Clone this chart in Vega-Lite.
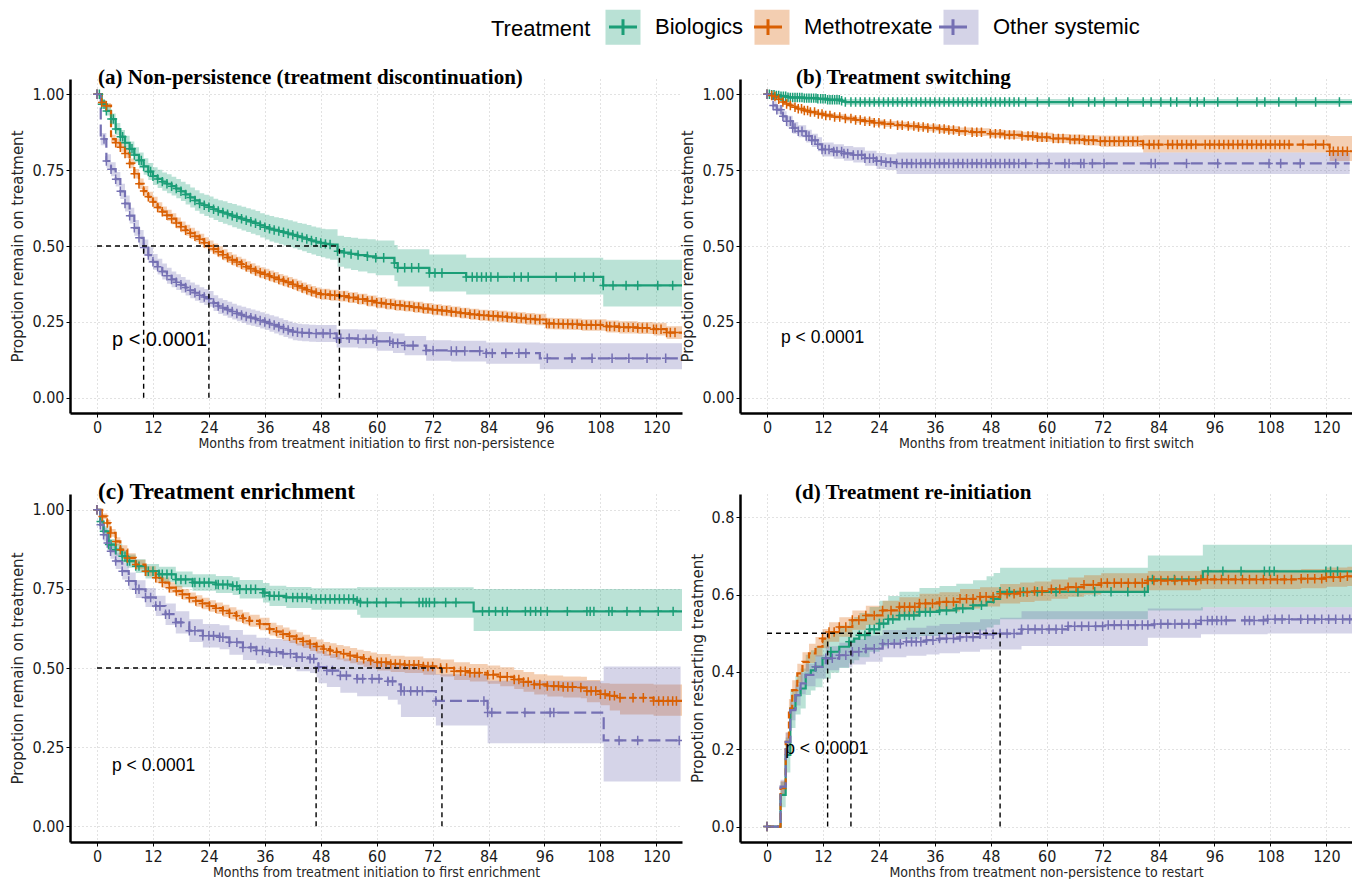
{
"$schema": "https://vega.github.io/schema/vega-lite/v6.json",
"background": "white",
"padding": {"left": 10, "top": 8, "right": 0, "bottom": 0},
"bounds": "flush",
"columns": 2,
"spacing": {"row": 81, "column": 58},
"datasets": {
"a": [
{"g":"Biologics","t":0,"s":1,"lo":1,"hi":1},
{"g":"Biologics","t":0.5,"s":1,"lo":1,"hi":1},
{"g":"Biologics","t":1,"s":0.967,"lo":0.955,"hi":0.979},
{"g":"Biologics","t":1.5,"s":0.967,"lo":0.955,"hi":0.979},
{"g":"Biologics","t":2,"s":0.945,"lo":0.93,"hi":0.96},
{"g":"Biologics","t":3,"s":0.918,"lo":0.9,"hi":0.936},
{"g":"Biologics","t":3.5,"s":0.918,"lo":0.9,"hi":0.936},
{"g":"Biologics","t":4,"s":0.885,"lo":0.865,"hi":0.905},
{"g":"Biologics","t":5,"s":0.86,"lo":0.838,"hi":0.882},
{"g":"Biologics","t":5.5,"s":0.86,"lo":0.838,"hi":0.882},
{"g":"Biologics","t":6,"s":0.84,"lo":0.817,"hi":0.863},
{"g":"Biologics","t":7,"s":0.82,"lo":0.796,"hi":0.844},
{"g":"Biologics","t":7.5,"s":0.82,"lo":0.796,"hi":0.844},
{"g":"Biologics","t":8,"s":0.8,"lo":0.775,"hi":0.825},
{"g":"Biologics","t":9,"s":0.782,"lo":0.756,"hi":0.808},
{"g":"Biologics","t":9.5,"s":0.782,"lo":0.756,"hi":0.808},
{"g":"Biologics","t":10,"s":0.762,"lo":0.735,"hi":0.789},
{"g":"Biologics","t":11,"s":0.745,"lo":0.717,"hi":0.773},
{"g":"Biologics","t":11.5,"s":0.745,"lo":0.717,"hi":0.773},
{"g":"Biologics","t":12,"s":0.73,"lo":0.701,"hi":0.759},
{"g":"Biologics","t":13,"s":0.721,"lo":0.691,"hi":0.751},
{"g":"Biologics","t":14,"s":0.712,"lo":0.682,"hi":0.742},
{"g":"Biologics","t":15,"s":0.705,"lo":0.674,"hi":0.736},
{"g":"Biologics","t":16,"s":0.697,"lo":0.666,"hi":0.728},
{"g":"Biologics","t":17,"s":0.689,"lo":0.657,"hi":0.721},
{"g":"Biologics","t":18,"s":0.68,"lo":0.648,"hi":0.712},
{"g":"Biologics","t":19,"s":0.67,"lo":0.637,"hi":0.703},
{"g":"Biologics","t":20,"s":0.66,"lo":0.627,"hi":0.693},
{"g":"Biologics","t":21,"s":0.65,"lo":0.616,"hi":0.684},
{"g":"Biologics","t":22,"s":0.64,"lo":0.606,"hi":0.674},
{"g":"Biologics","t":23,"s":0.634,"lo":0.599,"hi":0.669},
{"g":"Biologics","t":24,"s":0.628,"lo":0.593,"hi":0.663},
{"g":"Biologics","t":25,"s":0.621,"lo":0.586,"hi":0.656},
{"g":"Biologics","t":26,"s":0.615,"lo":0.579,"hi":0.651},
{"g":"Biologics","t":27,"s":0.61,"lo":0.573,"hi":0.647},
{"g":"Biologics","t":28,"s":0.605,"lo":0.568,"hi":0.642},
{"g":"Biologics","t":29,"s":0.6,"lo":0.562,"hi":0.638},
{"g":"Biologics","t":30,"s":0.595,"lo":0.557,"hi":0.633},
{"g":"Biologics","t":31,"s":0.59,"lo":0.551,"hi":0.629},
{"g":"Biologics","t":32,"s":0.585,"lo":0.546,"hi":0.624},
{"g":"Biologics","t":33,"s":0.58,"lo":0.54,"hi":0.62},
{"g":"Biologics","t":34,"s":0.575,"lo":0.535,"hi":0.615},
{"g":"Biologics","t":35,"s":0.568,"lo":0.528,"hi":0.608},
{"g":"Biologics","t":36,"s":0.562,"lo":0.521,"hi":0.603},
{"g":"Biologics","t":37,"s":0.557,"lo":0.515,"hi":0.599},
{"g":"Biologics","t":38,"s":0.553,"lo":0.511,"hi":0.595},
{"g":"Biologics","t":39,"s":0.549,"lo":0.506,"hi":0.592},
{"g":"Biologics","t":40,"s":0.545,"lo":0.502,"hi":0.588},
{"g":"Biologics","t":41,"s":0.541,"lo":0.497,"hi":0.585},
{"g":"Biologics","t":42,"s":0.537,"lo":0.493,"hi":0.581},
{"g":"Biologics","t":43,"s":0.532,"lo":0.488,"hi":0.576},
{"g":"Biologics","t":44,"s":0.528,"lo":0.483,"hi":0.573},
{"g":"Biologics","t":45,"s":0.523,"lo":0.477,"hi":0.569},
{"g":"Biologics","t":46,"s":0.518,"lo":0.472,"hi":0.564},
{"g":"Biologics","t":47,"s":0.514,"lo":0.467,"hi":0.561},
{"g":"Biologics","t":48,"s":0.51,"lo":0.463,"hi":0.557},
{"g":"Biologics","t":49,"s":0.507,"lo":0.459,"hi":0.555},
{"g":"Biologics","t":50,"s":0.505,"lo":0.455,"hi":0.555},
{"g":"Biologics","t":51.6,"s":0.483,"lo":0.432,"hi":0.534},
{"g":"Biologics","t":53,"s":0.478,"lo":0.426,"hi":0.53},
{"g":"Biologics","t":54.5,"s":0.474,"lo":0.421,"hi":0.527},
{"g":"Biologics","t":56,"s":0.47,"lo":0.416,"hi":0.524},
{"g":"Biologics","t":58,"s":0.466,"lo":0.41,"hi":0.522},
{"g":"Biologics","t":59.8,"s":0.461,"lo":0.404,"hi":0.518},
{"g":"Biologics","t":61.5,"s":0.461,"lo":0.404,"hi":0.518},
{"g":"Biologics","t":63.8,"s":0.444,"lo":0.385,"hi":0.503},
{"g":"Biologics","t":64.5,"s":0.428,"lo":0.367,"hi":0.489},
{"g":"Biologics","t":66,"s":0.428,"lo":0.367,"hi":0.489},
{"g":"Biologics","t":67.5,"s":0.428,"lo":0.367,"hi":0.489},
{"g":"Biologics","t":69,"s":0.428,"lo":0.367,"hi":0.489},
{"g":"Biologics","t":71.3,"s":0.411,"lo":0.35,"hi":0.472},
{"g":"Biologics","t":72.5,"s":0.411,"lo":0.35,"hi":0.472},
{"g":"Biologics","t":74,"s":0.411,"lo":0.35,"hi":0.472},
{"g":"Biologics","t":79.2,"s":0.398,"lo":0.34,"hi":0.461},
{"g":"Biologics","t":80.5,"s":0.398,"lo":0.34,"hi":0.461},
{"g":"Biologics","t":81.5,"s":0.398,"lo":0.34,"hi":0.461},
{"g":"Biologics","t":82.5,"s":0.398,"lo":0.34,"hi":0.461},
{"g":"Biologics","t":83.5,"s":0.398,"lo":0.34,"hi":0.461},
{"g":"Biologics","t":84.5,"s":0.398,"lo":0.34,"hi":0.461},
{"g":"Biologics","t":86,"s":0.398,"lo":0.34,"hi":0.461},
{"g":"Biologics","t":89.5,"s":0.398,"lo":0.34,"hi":0.461},
{"g":"Biologics","t":91,"s":0.398,"lo":0.34,"hi":0.461},
{"g":"Biologics","t":92.5,"s":0.398,"lo":0.34,"hi":0.461},
{"g":"Biologics","t":98.5,"s":0.398,"lo":0.34,"hi":0.461},
{"g":"Biologics","t":102.5,"s":0.398,"lo":0.34,"hi":0.461},
{"g":"Biologics","t":104.5,"s":0.398,"lo":0.34,"hi":0.461},
{"g":"Biologics","t":106.5,"s":0.398,"lo":0.34,"hi":0.461},
{"g":"Biologics","t":108.6,"s":0.37,"lo":0.301,"hi":0.455},
{"g":"Biologics","t":110.7,"s":0.37,"lo":0.301,"hi":0.455},
{"g":"Biologics","t":113.5,"s":0.37,"lo":0.301,"hi":0.455},
{"g":"Biologics","t":116,"s":0.37,"lo":0.301,"hi":0.455},
{"g":"Biologics","t":120.3,"s":0.37,"lo":0.301,"hi":0.455},
{"g":"Biologics","t":123.5,"s":0.37,"lo":0.301,"hi":0.455},
{"g":"Biologics","t":125.5,"s":0.37,"lo":0.301,"hi":0.455,"c":0},
{"g":"Methotrexate","t":0,"s":1,"lo":1,"hi":1},
{"g":"Methotrexate","t":1,"s":0.973,"lo":0.965,"hi":0.981},
{"g":"Methotrexate","t":2,"s":0.962,"lo":0.953,"hi":0.971},
{"g":"Methotrexate","t":3,"s":0.852,"lo":0.838,"hi":0.866,"c":0},
{"g":"Methotrexate","t":4,"s":0.84,"lo":0.826,"hi":0.854},
{"g":"Methotrexate","t":5,"s":0.825,"lo":0.81,"hi":0.84},
{"g":"Methotrexate","t":6,"s":0.805,"lo":0.79,"hi":0.82},
{"g":"Methotrexate","t":7,"s":0.772,"lo":0.756,"hi":0.788},
{"g":"Methotrexate","t":8,"s":0.738,"lo":0.722,"hi":0.754},
{"g":"Methotrexate","t":9,"s":0.705,"lo":0.688,"hi":0.722},
{"g":"Methotrexate","t":10,"s":0.681,"lo":0.664,"hi":0.698},
{"g":"Methotrexate","t":11,"s":0.662,"lo":0.645,"hi":0.679},
{"g":"Methotrexate","t":12,"s":0.645,"lo":0.628,"hi":0.662},
{"g":"Methotrexate","t":13,"s":0.627,"lo":0.61,"hi":0.644},
{"g":"Methotrexate","t":14,"s":0.613,"lo":0.596,"hi":0.63},
{"g":"Methotrexate","t":15,"s":0.601,"lo":0.583,"hi":0.619},
{"g":"Methotrexate","t":16,"s":0.59,"lo":0.572,"hi":0.608},
{"g":"Methotrexate","t":17,"s":0.576,"lo":0.558,"hi":0.594},
{"g":"Methotrexate","t":18,"s":0.563,"lo":0.545,"hi":0.581},
{"g":"Methotrexate","t":19,"s":0.552,"lo":0.534,"hi":0.57},
{"g":"Methotrexate","t":20,"s":0.542,"lo":0.524,"hi":0.56},
{"g":"Methotrexate","t":21,"s":0.532,"lo":0.514,"hi":0.55},
{"g":"Methotrexate","t":22,"s":0.522,"lo":0.504,"hi":0.54},
{"g":"Methotrexate","t":23,"s":0.511,"lo":0.493,"hi":0.529},
{"g":"Methotrexate","t":24,"s":0.5,"lo":0.482,"hi":0.518},
{"g":"Methotrexate","t":25,"s":0.49,"lo":0.472,"hi":0.508},
{"g":"Methotrexate","t":26,"s":0.481,"lo":0.463,"hi":0.499},
{"g":"Methotrexate","t":27,"s":0.471,"lo":0.453,"hi":0.489},
{"g":"Methotrexate","t":28,"s":0.462,"lo":0.444,"hi":0.48},
{"g":"Methotrexate","t":29,"s":0.454,"lo":0.436,"hi":0.472},
{"g":"Methotrexate","t":30,"s":0.447,"lo":0.429,"hi":0.465},
{"g":"Methotrexate","t":31,"s":0.44,"lo":0.422,"hi":0.458},
{"g":"Methotrexate","t":32,"s":0.432,"lo":0.414,"hi":0.45},
{"g":"Methotrexate","t":33,"s":0.425,"lo":0.407,"hi":0.443},
{"g":"Methotrexate","t":34,"s":0.418,"lo":0.4,"hi":0.436},
{"g":"Methotrexate","t":35,"s":0.412,"lo":0.394,"hi":0.43},
{"g":"Methotrexate","t":36,"s":0.407,"lo":0.389,"hi":0.425},
{"g":"Methotrexate","t":37,"s":0.401,"lo":0.383,"hi":0.419},
{"g":"Methotrexate","t":38,"s":0.396,"lo":0.378,"hi":0.414},
{"g":"Methotrexate","t":39,"s":0.39,"lo":0.372,"hi":0.408},
{"g":"Methotrexate","t":40,"s":0.385,"lo":0.367,"hi":0.403},
{"g":"Methotrexate","t":41,"s":0.38,"lo":0.362,"hi":0.398},
{"g":"Methotrexate","t":42,"s":0.374,"lo":0.356,"hi":0.392},
{"g":"Methotrexate","t":43,"s":0.368,"lo":0.35,"hi":0.386},
{"g":"Methotrexate","t":44,"s":0.362,"lo":0.344,"hi":0.38},
{"g":"Methotrexate","t":45,"s":0.356,"lo":0.338,"hi":0.374},
{"g":"Methotrexate","t":46,"s":0.35,"lo":0.332,"hi":0.368},
{"g":"Methotrexate","t":47,"s":0.345,"lo":0.327,"hi":0.363},
{"g":"Methotrexate","t":48,"s":0.341,"lo":0.323,"hi":0.359},
{"g":"Methotrexate","t":49,"s":0.341,"lo":0.323,"hi":0.359},
{"g":"Methotrexate","t":50,"s":0.338,"lo":0.32,"hi":0.356},
{"g":"Methotrexate","t":51,"s":0.338,"lo":0.32,"hi":0.356},
{"g":"Methotrexate","t":52,"s":0.335,"lo":0.317,"hi":0.353},
{"g":"Methotrexate","t":53,"s":0.335,"lo":0.317,"hi":0.353},
{"g":"Methotrexate","t":54,"s":0.33,"lo":0.312,"hi":0.348},
{"g":"Methotrexate","t":55,"s":0.33,"lo":0.312,"hi":0.348},
{"g":"Methotrexate","t":56,"s":0.325,"lo":0.307,"hi":0.343},
{"g":"Methotrexate","t":57,"s":0.325,"lo":0.307,"hi":0.343},
{"g":"Methotrexate","t":58,"s":0.319,"lo":0.301,"hi":0.337},
{"g":"Methotrexate","t":59,"s":0.319,"lo":0.301,"hi":0.337},
{"g":"Methotrexate","t":60,"s":0.313,"lo":0.295,"hi":0.331},
{"g":"Methotrexate","t":61,"s":0.313,"lo":0.295,"hi":0.331},
{"g":"Methotrexate","t":62,"s":0.309,"lo":0.291,"hi":0.327},
{"g":"Methotrexate","t":63,"s":0.309,"lo":0.291,"hi":0.327},
{"g":"Methotrexate","t":64,"s":0.305,"lo":0.287,"hi":0.323},
{"g":"Methotrexate","t":65,"s":0.305,"lo":0.287,"hi":0.323},
{"g":"Methotrexate","t":66,"s":0.302,"lo":0.284,"hi":0.32},
{"g":"Methotrexate","t":67,"s":0.302,"lo":0.284,"hi":0.32},
{"g":"Methotrexate","t":68,"s":0.298,"lo":0.28,"hi":0.316},
{"g":"Methotrexate","t":69,"s":0.298,"lo":0.28,"hi":0.316},
{"g":"Methotrexate","t":70,"s":0.294,"lo":0.276,"hi":0.312},
{"g":"Methotrexate","t":71,"s":0.294,"lo":0.276,"hi":0.312},
{"g":"Methotrexate","t":72,"s":0.29,"lo":0.272,"hi":0.308},
{"g":"Methotrexate","t":73,"s":0.29,"lo":0.272,"hi":0.308},
{"g":"Methotrexate","t":74,"s":0.287,"lo":0.269,"hi":0.305},
{"g":"Methotrexate","t":75,"s":0.287,"lo":0.269,"hi":0.305},
{"g":"Methotrexate","t":76,"s":0.283,"lo":0.265,"hi":0.301},
{"g":"Methotrexate","t":77,"s":0.283,"lo":0.265,"hi":0.301},
{"g":"Methotrexate","t":78,"s":0.279,"lo":0.261,"hi":0.297},
{"g":"Methotrexate","t":79,"s":0.279,"lo":0.261,"hi":0.297},
{"g":"Methotrexate","t":80,"s":0.275,"lo":0.257,"hi":0.293},
{"g":"Methotrexate","t":81,"s":0.275,"lo":0.257,"hi":0.293},
{"g":"Methotrexate","t":82,"s":0.272,"lo":0.254,"hi":0.29},
{"g":"Methotrexate","t":83,"s":0.272,"lo":0.254,"hi":0.29},
{"g":"Methotrexate","t":84,"s":0.27,"lo":0.251,"hi":0.289},
{"g":"Methotrexate","t":85,"s":0.27,"lo":0.251,"hi":0.289},
{"g":"Methotrexate","t":86,"s":0.268,"lo":0.249,"hi":0.287},
{"g":"Methotrexate","t":87,"s":0.268,"lo":0.249,"hi":0.287},
{"g":"Methotrexate","t":88,"s":0.265,"lo":0.246,"hi":0.284},
{"g":"Methotrexate","t":89,"s":0.265,"lo":0.246,"hi":0.284},
{"g":"Methotrexate","t":90,"s":0.263,"lo":0.244,"hi":0.282},
{"g":"Methotrexate","t":91,"s":0.263,"lo":0.244,"hi":0.282},
{"g":"Methotrexate","t":92,"s":0.26,"lo":0.241,"hi":0.279},
{"g":"Methotrexate","t":93,"s":0.26,"lo":0.241,"hi":0.279},
{"g":"Methotrexate","t":94,"s":0.258,"lo":0.239,"hi":0.277},
{"g":"Methotrexate","t":95,"s":0.258,"lo":0.239,"hi":0.277},
{"g":"Methotrexate","t":96.4,"s":0.245,"lo":0.226,"hi":0.264},
{"g":"Methotrexate","t":97,"s":0.245,"lo":0.226,"hi":0.264},
{"g":"Methotrexate","t":98,"s":0.244,"lo":0.225,"hi":0.263},
{"g":"Methotrexate","t":99,"s":0.244,"lo":0.225,"hi":0.263},
{"g":"Methotrexate","t":100,"s":0.243,"lo":0.224,"hi":0.262},
{"g":"Methotrexate","t":101,"s":0.243,"lo":0.224,"hi":0.262},
{"g":"Methotrexate","t":102,"s":0.242,"lo":0.223,"hi":0.261},
{"g":"Methotrexate","t":103,"s":0.242,"lo":0.223,"hi":0.261},
{"g":"Methotrexate","t":104,"s":0.24,"lo":0.221,"hi":0.259},
{"g":"Methotrexate","t":105,"s":0.24,"lo":0.221,"hi":0.259},
{"g":"Methotrexate","t":106,"s":0.24,"lo":0.221,"hi":0.259},
{"g":"Methotrexate","t":107,"s":0.24,"lo":0.221,"hi":0.259},
{"g":"Methotrexate","t":108,"s":0.24,"lo":0.221,"hi":0.259},
{"g":"Methotrexate","t":109.3,"s":0.235,"lo":0.215,"hi":0.255},
{"g":"Methotrexate","t":110,"s":0.235,"lo":0.215,"hi":0.255},
{"g":"Methotrexate","t":111,"s":0.235,"lo":0.215,"hi":0.255},
{"g":"Methotrexate","t":112,"s":0.232,"lo":0.212,"hi":0.252},
{"g":"Methotrexate","t":113,"s":0.232,"lo":0.212,"hi":0.252},
{"g":"Methotrexate","t":114,"s":0.232,"lo":0.212,"hi":0.252},
{"g":"Methotrexate","t":115,"s":0.232,"lo":0.212,"hi":0.252},
{"g":"Methotrexate","t":116,"s":0.23,"lo":0.21,"hi":0.25},
{"g":"Methotrexate","t":117,"s":0.23,"lo":0.21,"hi":0.25},
{"g":"Methotrexate","t":118,"s":0.23,"lo":0.21,"hi":0.25},
{"g":"Methotrexate","t":119.4,"s":0.226,"lo":0.205,"hi":0.247},
{"g":"Methotrexate","t":120,"s":0.226,"lo":0.205,"hi":0.247},
{"g":"Methotrexate","t":121,"s":0.226,"lo":0.205,"hi":0.247},
{"g":"Methotrexate","t":122.2,"s":0.215,"lo":0.194,"hi":0.236},
{"g":"Methotrexate","t":123,"s":0.215,"lo":0.194,"hi":0.236},
{"g":"Methotrexate","t":124,"s":0.215,"lo":0.194,"hi":0.236},
{"g":"Methotrexate","t":125.5,"s":0.215,"lo":0.194,"hi":0.236,"c":0},
{"g":"Other systemic","t":0,"s":1,"lo":1,"hi":1},
{"g":"Other systemic","t":0.8,"s":0.852,"lo":0.832,"hi":0.872,"c":0},
{"g":"Other systemic","t":1.5,"s":0.852,"lo":0.832,"hi":0.872},
{"g":"Other systemic","t":2,"s":0.78,"lo":0.758,"hi":0.802},
{"g":"Other systemic","t":3,"s":0.753,"lo":0.73,"hi":0.776},
{"g":"Other systemic","t":4,"s":0.72,"lo":0.696,"hi":0.744},
{"g":"Other systemic","t":5,"s":0.68,"lo":0.655,"hi":0.705},
{"g":"Other systemic","t":6,"s":0.64,"lo":0.614,"hi":0.666},
{"g":"Other systemic","t":7,"s":0.6,"lo":0.574,"hi":0.626},
{"g":"Other systemic","t":8,"s":0.56,"lo":0.534,"hi":0.586},
{"g":"Other systemic","t":9,"s":0.527,"lo":0.501,"hi":0.553},
{"g":"Other systemic","t":10,"s":0.495,"lo":0.469,"hi":0.521},
{"g":"Other systemic","t":11,"s":0.47,"lo":0.444,"hi":0.496},
{"g":"Other systemic","t":12,"s":0.448,"lo":0.422,"hi":0.474},
{"g":"Other systemic","t":13,"s":0.432,"lo":0.406,"hi":0.458},
{"g":"Other systemic","t":14,"s":0.416,"lo":0.39,"hi":0.442},
{"g":"Other systemic","t":15,"s":0.402,"lo":0.376,"hi":0.428},
{"g":"Other systemic","t":16,"s":0.39,"lo":0.364,"hi":0.416},
{"g":"Other systemic","t":17,"s":0.381,"lo":0.355,"hi":0.407},
{"g":"Other systemic","t":18,"s":0.372,"lo":0.346,"hi":0.398},
{"g":"Other systemic","t":19,"s":0.363,"lo":0.337,"hi":0.389},
{"g":"Other systemic","t":20,"s":0.354,"lo":0.328,"hi":0.38},
{"g":"Other systemic","t":21,"s":0.346,"lo":0.32,"hi":0.372},
{"g":"Other systemic","t":22,"s":0.338,"lo":0.312,"hi":0.364},
{"g":"Other systemic","t":23,"s":0.332,"lo":0.306,"hi":0.358},
{"g":"Other systemic","t":24,"s":0.326,"lo":0.3,"hi":0.352},
{"g":"Other systemic","t":25,"s":0.312,"lo":0.286,"hi":0.338},
{"g":"Other systemic","t":26,"s":0.302,"lo":0.276,"hi":0.328},
{"g":"Other systemic","t":27,"s":0.296,"lo":0.27,"hi":0.322},
{"g":"Other systemic","t":28,"s":0.29,"lo":0.264,"hi":0.316},
{"g":"Other systemic","t":29,"s":0.284,"lo":0.258,"hi":0.31},
{"g":"Other systemic","t":30,"s":0.278,"lo":0.252,"hi":0.304},
{"g":"Other systemic","t":31,"s":0.273,"lo":0.246,"hi":0.3},
{"g":"Other systemic","t":32,"s":0.268,"lo":0.241,"hi":0.295},
{"g":"Other systemic","t":33,"s":0.264,"lo":0.237,"hi":0.291},
{"g":"Other systemic","t":34,"s":0.26,"lo":0.233,"hi":0.287},
{"g":"Other systemic","t":35,"s":0.255,"lo":0.228,"hi":0.282},
{"g":"Other systemic","t":36,"s":0.25,"lo":0.223,"hi":0.277},
{"g":"Other systemic","t":37,"s":0.245,"lo":0.218,"hi":0.272},
{"g":"Other systemic","t":38,"s":0.24,"lo":0.212,"hi":0.268},
{"g":"Other systemic","t":39,"s":0.234,"lo":0.206,"hi":0.262},
{"g":"Other systemic","t":40,"s":0.228,"lo":0.2,"hi":0.256},
{"g":"Other systemic","t":41,"s":0.223,"lo":0.195,"hi":0.251},
{"g":"Other systemic","t":42,"s":0.218,"lo":0.19,"hi":0.246},
{"g":"Other systemic","t":43,"s":0.216,"lo":0.188,"hi":0.244},
{"g":"Other systemic","t":44,"s":0.214,"lo":0.186,"hi":0.242},
{"g":"Other systemic","t":45.5,"s":0.213,"lo":0.185,"hi":0.241},
{"g":"Other systemic","t":47,"s":0.212,"lo":0.184,"hi":0.24},
{"g":"Other systemic","t":48.5,"s":0.212,"lo":0.184,"hi":0.24},
{"g":"Other systemic","t":50,"s":0.212,"lo":0.184,"hi":0.24},
{"g":"Other systemic","t":51.4,"s":0.196,"lo":0.166,"hi":0.226},
{"g":"Other systemic","t":52.3,"s":0.196,"lo":0.166,"hi":0.226},
{"g":"Other systemic","t":54.1,"s":0.196,"lo":0.166,"hi":0.226},
{"g":"Other systemic","t":56,"s":0.194,"lo":0.163,"hi":0.225},
{"g":"Other systemic","t":57.7,"s":0.194,"lo":0.163,"hi":0.225},
{"g":"Other systemic","t":59.2,"s":0.194,"lo":0.163,"hi":0.225},
{"g":"Other systemic","t":60,"s":0.186,"lo":0.155,"hi":0.217},
{"g":"Other systemic","t":62.8,"s":0.186,"lo":0.155,"hi":0.217},
{"g":"Other systemic","t":63.5,"s":0.18,"lo":0.148,"hi":0.212},
{"g":"Other systemic","t":64.5,"s":0.18,"lo":0.148,"hi":0.212},
{"g":"Other systemic","t":66,"s":0.172,"lo":0.14,"hi":0.204},
{"g":"Other systemic","t":67.8,"s":0.172,"lo":0.14,"hi":0.204},
{"g":"Other systemic","t":70.6,"s":0.156,"lo":0.122,"hi":0.19},
{"g":"Other systemic","t":72.1,"s":0.156,"lo":0.122,"hi":0.19},
{"g":"Other systemic","t":76,"s":0.154,"lo":0.12,"hi":0.188},
{"g":"Other systemic","t":77.1,"s":0.154,"lo":0.12,"hi":0.188},
{"g":"Other systemic","t":78.9,"s":0.154,"lo":0.12,"hi":0.188},
{"g":"Other systemic","t":82.1,"s":0.154,"lo":0.12,"hi":0.188},
{"g":"Other systemic","t":83.5,"s":0.147,"lo":0.112,"hi":0.182},
{"g":"Other systemic","t":84.8,"s":0.147,"lo":0.112,"hi":0.182},
{"g":"Other systemic","t":87.7,"s":0.147,"lo":0.112,"hi":0.182},
{"g":"Other systemic","t":90.5,"s":0.147,"lo":0.112,"hi":0.182},
{"g":"Other systemic","t":92,"s":0.147,"lo":0.112,"hi":0.182},
{"g":"Other systemic","t":95,"s":0.13,"lo":0.094,"hi":0.18,"c":0},
{"g":"Other systemic","t":96.6,"s":0.13,"lo":0.094,"hi":0.18},
{"g":"Other systemic","t":101.9,"s":0.13,"lo":0.094,"hi":0.18},
{"g":"Other systemic","t":106.2,"s":0.13,"lo":0.094,"hi":0.18},
{"g":"Other systemic","t":110.5,"s":0.13,"lo":0.094,"hi":0.18},
{"g":"Other systemic","t":114.1,"s":0.13,"lo":0.094,"hi":0.18},
{"g":"Other systemic","t":118,"s":0.13,"lo":0.094,"hi":0.18},
{"g":"Other systemic","t":122,"s":0.13,"lo":0.094,"hi":0.18},
{"g":"Other systemic","t":125.5,"s":0.13,"lo":0.094,"hi":0.18,"c":0}
],
"b": [
{"g":"Biologics","t":0,"s":1,"lo":1,"hi":1},
{"g":"Biologics","t":0.5,"s":1,"lo":1,"hi":1},
{"g":"Biologics","t":1,"s":0.998,"lo":0.995,"hi":1},
{"g":"Biologics","t":1.5,"s":0.998,"lo":0.995,"hi":1},
{"g":"Biologics","t":2,"s":0.996,"lo":0.992,"hi":1},
{"g":"Biologics","t":2.5,"s":0.996,"lo":0.992,"hi":1},
{"g":"Biologics","t":3,"s":0.993,"lo":0.988,"hi":0.998},
{"g":"Biologics","t":3.5,"s":0.993,"lo":0.988,"hi":0.998},
{"g":"Biologics","t":4,"s":0.993,"lo":0.988,"hi":0.998},
{"g":"Biologics","t":4.5,"s":0.99,"lo":0.985,"hi":0.995},
{"g":"Biologics","t":5,"s":0.989,"lo":0.984,"hi":0.994},
{"g":"Biologics","t":5.5,"s":0.989,"lo":0.984,"hi":0.994},
{"g":"Biologics","t":6,"s":0.989,"lo":0.984,"hi":0.994},
{"g":"Biologics","t":6.5,"s":0.989,"lo":0.984,"hi":0.994},
{"g":"Biologics","t":7,"s":0.989,"lo":0.984,"hi":0.994},
{"g":"Biologics","t":7.5,"s":0.989,"lo":0.984,"hi":0.994},
{"g":"Biologics","t":8,"s":0.987,"lo":0.982,"hi":0.992},
{"g":"Biologics","t":8.5,"s":0.987,"lo":0.982,"hi":0.992},
{"g":"Biologics","t":9,"s":0.987,"lo":0.982,"hi":0.992},
{"g":"Biologics","t":9.5,"s":0.987,"lo":0.982,"hi":0.992},
{"g":"Biologics","t":10,"s":0.987,"lo":0.982,"hi":0.992},
{"g":"Biologics","t":10.5,"s":0.987,"lo":0.982,"hi":0.992},
{"g":"Biologics","t":10.9,"s":0.985,"lo":0.979,"hi":0.991},
{"g":"Biologics","t":11.5,"s":0.985,"lo":0.979,"hi":0.991},
{"g":"Biologics","t":12,"s":0.985,"lo":0.979,"hi":0.991},
{"g":"Biologics","t":12.5,"s":0.985,"lo":0.979,"hi":0.991},
{"g":"Biologics","t":13,"s":0.982,"lo":0.976,"hi":0.988},
{"g":"Biologics","t":13.5,"s":0.982,"lo":0.976,"hi":0.988},
{"g":"Biologics","t":14,"s":0.982,"lo":0.976,"hi":0.988},
{"g":"Biologics","t":14.5,"s":0.982,"lo":0.976,"hi":0.988},
{"g":"Biologics","t":15,"s":0.982,"lo":0.976,"hi":0.988},
{"g":"Biologics","t":15.5,"s":0.982,"lo":0.976,"hi":0.988},
{"g":"Biologics","t":16,"s":0.978,"lo":0.971,"hi":0.985},
{"g":"Biologics","t":16.8,"s":0.974,"lo":0.964,"hi":0.984},
{"g":"Biologics","t":18,"s":0.974,"lo":0.964,"hi":0.984},
{"g":"Biologics","t":19,"s":0.974,"lo":0.964,"hi":0.984},
{"g":"Biologics","t":20,"s":0.974,"lo":0.964,"hi":0.984},
{"g":"Biologics","t":21,"s":0.974,"lo":0.964,"hi":0.984},
{"g":"Biologics","t":22,"s":0.974,"lo":0.964,"hi":0.984},
{"g":"Biologics","t":23,"s":0.974,"lo":0.964,"hi":0.984},
{"g":"Biologics","t":24,"s":0.974,"lo":0.964,"hi":0.984},
{"g":"Biologics","t":25,"s":0.974,"lo":0.964,"hi":0.984},
{"g":"Biologics","t":26,"s":0.974,"lo":0.964,"hi":0.984},
{"g":"Biologics","t":27,"s":0.974,"lo":0.964,"hi":0.984},
{"g":"Biologics","t":28,"s":0.974,"lo":0.964,"hi":0.984},
{"g":"Biologics","t":29,"s":0.974,"lo":0.964,"hi":0.984},
{"g":"Biologics","t":30,"s":0.974,"lo":0.964,"hi":0.984},
{"g":"Biologics","t":31,"s":0.974,"lo":0.964,"hi":0.984},
{"g":"Biologics","t":32,"s":0.974,"lo":0.964,"hi":0.984},
{"g":"Biologics","t":33,"s":0.974,"lo":0.964,"hi":0.984},
{"g":"Biologics","t":34,"s":0.974,"lo":0.964,"hi":0.984},
{"g":"Biologics","t":35,"s":0.974,"lo":0.964,"hi":0.984},
{"g":"Biologics","t":36,"s":0.974,"lo":0.964,"hi":0.984},
{"g":"Biologics","t":37,"s":0.974,"lo":0.964,"hi":0.984},
{"g":"Biologics","t":38,"s":0.974,"lo":0.964,"hi":0.984},
{"g":"Biologics","t":39,"s":0.974,"lo":0.964,"hi":0.984},
{"g":"Biologics","t":40,"s":0.974,"lo":0.964,"hi":0.984},
{"g":"Biologics","t":41,"s":0.974,"lo":0.964,"hi":0.984},
{"g":"Biologics","t":42,"s":0.974,"lo":0.964,"hi":0.984},
{"g":"Biologics","t":43,"s":0.974,"lo":0.964,"hi":0.984},
{"g":"Biologics","t":44,"s":0.974,"lo":0.964,"hi":0.984},
{"g":"Biologics","t":45,"s":0.974,"lo":0.964,"hi":0.984},
{"g":"Biologics","t":46,"s":0.974,"lo":0.964,"hi":0.984},
{"g":"Biologics","t":47,"s":0.974,"lo":0.964,"hi":0.984},
{"g":"Biologics","t":48,"s":0.974,"lo":0.964,"hi":0.984},
{"g":"Biologics","t":49,"s":0.974,"lo":0.964,"hi":0.984},
{"g":"Biologics","t":50,"s":0.974,"lo":0.964,"hi":0.984},
{"g":"Biologics","t":51,"s":0.974,"lo":0.964,"hi":0.984},
{"g":"Biologics","t":52,"s":0.974,"lo":0.964,"hi":0.984},
{"g":"Biologics","t":53,"s":0.974,"lo":0.964,"hi":0.984},
{"g":"Biologics","t":54,"s":0.974,"lo":0.964,"hi":0.984},
{"g":"Biologics","t":55.5,"s":0.974,"lo":0.964,"hi":0.984},
{"g":"Biologics","t":58,"s":0.974,"lo":0.964,"hi":0.984},
{"g":"Biologics","t":60.5,"s":0.974,"lo":0.964,"hi":0.984},
{"g":"Biologics","t":64.8,"s":0.974,"lo":0.964,"hi":0.984},
{"g":"Biologics","t":65.6,"s":0.974,"lo":0.964,"hi":0.984},
{"g":"Biologics","t":69,"s":0.974,"lo":0.964,"hi":0.984},
{"g":"Biologics","t":70.3,"s":0.974,"lo":0.964,"hi":0.984},
{"g":"Biologics","t":72.3,"s":0.974,"lo":0.964,"hi":0.984},
{"g":"Biologics","t":74.9,"s":0.974,"lo":0.964,"hi":0.984},
{"g":"Biologics","t":77.4,"s":0.974,"lo":0.964,"hi":0.984},
{"g":"Biologics","t":80.7,"s":0.974,"lo":0.964,"hi":0.984},
{"g":"Biologics","t":82.4,"s":0.974,"lo":0.964,"hi":0.984},
{"g":"Biologics","t":84.5,"s":0.974,"lo":0.964,"hi":0.984},
{"g":"Biologics","t":86.6,"s":0.974,"lo":0.964,"hi":0.984},
{"g":"Biologics","t":87.9,"s":0.974,"lo":0.964,"hi":0.984},
{"g":"Biologics","t":90.8,"s":0.974,"lo":0.964,"hi":0.984},
{"g":"Biologics","t":92.3,"s":0.974,"lo":0.964,"hi":0.984},
{"g":"Biologics","t":93.8,"s":0.974,"lo":0.964,"hi":0.984},
{"g":"Biologics","t":96.7,"s":0.974,"lo":0.964,"hi":0.984},
{"g":"Biologics","t":100.9,"s":0.974,"lo":0.964,"hi":0.984},
{"g":"Biologics","t":105.1,"s":0.974,"lo":0.964,"hi":0.984},
{"g":"Biologics","t":106.8,"s":0.974,"lo":0.964,"hi":0.984},
{"g":"Biologics","t":109.8,"s":0.974,"lo":0.964,"hi":0.984},
{"g":"Biologics","t":113.5,"s":0.974,"lo":0.964,"hi":0.984},
{"g":"Biologics","t":117.7,"s":0.974,"lo":0.964,"hi":0.984},
{"g":"Biologics","t":122.8,"s":0.974,"lo":0.964,"hi":0.984},
{"g":"Biologics","t":125.5,"s":0.974,"lo":0.964,"hi":0.984,"c":0},
{"g":"Methotrexate","t":0,"s":1,"lo":1,"hi":1},
{"g":"Methotrexate","t":1,"s":0.996,"lo":0.993,"hi":0.999},
{"g":"Methotrexate","t":1.7,"s":0.992,"lo":0.988,"hi":0.996},
{"g":"Methotrexate","t":2.5,"s":0.983,"lo":0.978,"hi":0.988},
{"g":"Methotrexate","t":3.4,"s":0.974,"lo":0.968,"hi":0.98},
{"g":"Methotrexate","t":4.2,"s":0.968,"lo":0.962,"hi":0.974},
{"g":"Methotrexate","t":5,"s":0.963,"lo":0.956,"hi":0.97},
{"g":"Methotrexate","t":6,"s":0.957,"lo":0.95,"hi":0.964},
{"g":"Methotrexate","t":6.7,"s":0.952,"lo":0.945,"hi":0.959},
{"g":"Methotrexate","t":7.4,"s":0.952,"lo":0.945,"hi":0.959},
{"g":"Methotrexate","t":8,"s":0.946,"lo":0.939,"hi":0.953},
{"g":"Methotrexate","t":8.7,"s":0.946,"lo":0.939,"hi":0.953},
{"g":"Methotrexate","t":9.3,"s":0.941,"lo":0.933,"hi":0.949},
{"g":"Methotrexate","t":10.2,"s":0.941,"lo":0.933,"hi":0.949},
{"g":"Methotrexate","t":11,"s":0.935,"lo":0.927,"hi":0.943},
{"g":"Methotrexate","t":11.8,"s":0.935,"lo":0.927,"hi":0.943},
{"g":"Methotrexate","t":12.6,"s":0.93,"lo":0.922,"hi":0.938},
{"g":"Methotrexate","t":13.5,"s":0.93,"lo":0.922,"hi":0.938},
{"g":"Methotrexate","t":14.5,"s":0.925,"lo":0.916,"hi":0.934},
{"g":"Methotrexate","t":15.6,"s":0.925,"lo":0.916,"hi":0.934},
{"g":"Methotrexate","t":16.8,"s":0.92,"lo":0.911,"hi":0.929},
{"g":"Methotrexate","t":18,"s":0.92,"lo":0.911,"hi":0.929},
{"g":"Methotrexate","t":19,"s":0.915,"lo":0.906,"hi":0.924},
{"g":"Methotrexate","t":20,"s":0.915,"lo":0.906,"hi":0.924},
{"g":"Methotrexate","t":21,"s":0.911,"lo":0.901,"hi":0.921},
{"g":"Methotrexate","t":22,"s":0.911,"lo":0.901,"hi":0.921},
{"g":"Methotrexate","t":23,"s":0.906,"lo":0.896,"hi":0.916},
{"g":"Methotrexate","t":24,"s":0.906,"lo":0.896,"hi":0.916},
{"g":"Methotrexate","t":25.2,"s":0.902,"lo":0.892,"hi":0.912},
{"g":"Methotrexate","t":26.5,"s":0.902,"lo":0.892,"hi":0.912},
{"g":"Methotrexate","t":28,"s":0.898,"lo":0.887,"hi":0.909},
{"g":"Methotrexate","t":29,"s":0.898,"lo":0.887,"hi":0.909},
{"g":"Methotrexate","t":30.3,"s":0.895,"lo":0.884,"hi":0.906},
{"g":"Methotrexate","t":31.5,"s":0.895,"lo":0.884,"hi":0.906},
{"g":"Methotrexate","t":32.5,"s":0.892,"lo":0.881,"hi":0.903},
{"g":"Methotrexate","t":33.5,"s":0.892,"lo":0.881,"hi":0.903},
{"g":"Methotrexate","t":34.5,"s":0.889,"lo":0.878,"hi":0.9},
{"g":"Methotrexate","t":35.7,"s":0.889,"lo":0.878,"hi":0.9},
{"g":"Methotrexate","t":37,"s":0.885,"lo":0.873,"hi":0.897},
{"g":"Methotrexate","t":38,"s":0.885,"lo":0.873,"hi":0.897},
{"g":"Methotrexate","t":39,"s":0.882,"lo":0.87,"hi":0.894},
{"g":"Methotrexate","t":40,"s":0.882,"lo":0.87,"hi":0.894},
{"g":"Methotrexate","t":41.2,"s":0.878,"lo":0.866,"hi":0.89},
{"g":"Methotrexate","t":42.5,"s":0.878,"lo":0.866,"hi":0.89},
{"g":"Methotrexate","t":44,"s":0.875,"lo":0.862,"hi":0.888},
{"g":"Methotrexate","t":45,"s":0.875,"lo":0.862,"hi":0.888},
{"g":"Methotrexate","t":46,"s":0.875,"lo":0.862,"hi":0.888},
{"g":"Methotrexate","t":47.9,"s":0.87,"lo":0.857,"hi":0.883},
{"g":"Methotrexate","t":49,"s":0.87,"lo":0.857,"hi":0.883},
{"g":"Methotrexate","t":50,"s":0.87,"lo":0.857,"hi":0.883},
{"g":"Methotrexate","t":51,"s":0.866,"lo":0.852,"hi":0.88},
{"g":"Methotrexate","t":52,"s":0.866,"lo":0.852,"hi":0.88},
{"g":"Methotrexate","t":53,"s":0.866,"lo":0.852,"hi":0.88},
{"g":"Methotrexate","t":54.7,"s":0.862,"lo":0.848,"hi":0.876},
{"g":"Methotrexate","t":56,"s":0.862,"lo":0.848,"hi":0.876},
{"g":"Methotrexate","t":57,"s":0.862,"lo":0.848,"hi":0.876},
{"g":"Methotrexate","t":58,"s":0.858,"lo":0.843,"hi":0.873},
{"g":"Methotrexate","t":59,"s":0.858,"lo":0.843,"hi":0.873},
{"g":"Methotrexate","t":60,"s":0.858,"lo":0.843,"hi":0.873},
{"g":"Methotrexate","t":61.4,"s":0.854,"lo":0.839,"hi":0.869},
{"g":"Methotrexate","t":62.5,"s":0.854,"lo":0.839,"hi":0.869},
{"g":"Methotrexate","t":63.5,"s":0.854,"lo":0.839,"hi":0.869},
{"g":"Methotrexate","t":65,"s":0.851,"lo":0.835,"hi":0.867},
{"g":"Methotrexate","t":66,"s":0.851,"lo":0.835,"hi":0.867},
{"g":"Methotrexate","t":67,"s":0.851,"lo":0.835,"hi":0.867},
{"g":"Methotrexate","t":68.1,"s":0.848,"lo":0.831,"hi":0.865},
{"g":"Methotrexate","t":69,"s":0.848,"lo":0.831,"hi":0.865},
{"g":"Methotrexate","t":70,"s":0.848,"lo":0.831,"hi":0.865},
{"g":"Methotrexate","t":71.5,"s":0.845,"lo":0.826,"hi":0.864},
{"g":"Methotrexate","t":72.5,"s":0.845,"lo":0.826,"hi":0.864},
{"g":"Methotrexate","t":73.5,"s":0.845,"lo":0.826,"hi":0.864},
{"g":"Methotrexate","t":74.5,"s":0.845,"lo":0.826,"hi":0.864},
{"g":"Methotrexate","t":75.5,"s":0.845,"lo":0.826,"hi":0.864},
{"g":"Methotrexate","t":76.5,"s":0.845,"lo":0.826,"hi":0.864},
{"g":"Methotrexate","t":77.5,"s":0.845,"lo":0.826,"hi":0.864},
{"g":"Methotrexate","t":78.5,"s":0.845,"lo":0.826,"hi":0.864},
{"g":"Methotrexate","t":79.5,"s":0.845,"lo":0.826,"hi":0.864},
{"g":"Methotrexate","t":80.7,"s":0.834,"lo":0.808,"hi":0.865},
{"g":"Methotrexate","t":82,"s":0.834,"lo":0.808,"hi":0.865},
{"g":"Methotrexate","t":83,"s":0.834,"lo":0.808,"hi":0.865},
{"g":"Methotrexate","t":84,"s":0.834,"lo":0.808,"hi":0.865},
{"g":"Methotrexate","t":86,"s":0.834,"lo":0.808,"hi":0.865},
{"g":"Methotrexate","t":87,"s":0.834,"lo":0.808,"hi":0.865},
{"g":"Methotrexate","t":88,"s":0.834,"lo":0.808,"hi":0.865},
{"g":"Methotrexate","t":89,"s":0.834,"lo":0.808,"hi":0.865},
{"g":"Methotrexate","t":90,"s":0.834,"lo":0.808,"hi":0.865},
{"g":"Methotrexate","t":91,"s":0.834,"lo":0.808,"hi":0.865},
{"g":"Methotrexate","t":92,"s":0.834,"lo":0.808,"hi":0.865},
{"g":"Methotrexate","t":94,"s":0.834,"lo":0.808,"hi":0.865},
{"g":"Methotrexate","t":95,"s":0.834,"lo":0.808,"hi":0.865},
{"g":"Methotrexate","t":96,"s":0.834,"lo":0.808,"hi":0.865},
{"g":"Methotrexate","t":97,"s":0.834,"lo":0.808,"hi":0.865},
{"g":"Methotrexate","t":98,"s":0.834,"lo":0.808,"hi":0.865},
{"g":"Methotrexate","t":99,"s":0.834,"lo":0.808,"hi":0.865},
{"g":"Methotrexate","t":100,"s":0.834,"lo":0.808,"hi":0.865},
{"g":"Methotrexate","t":101,"s":0.834,"lo":0.808,"hi":0.865},
{"g":"Methotrexate","t":102,"s":0.834,"lo":0.808,"hi":0.865},
{"g":"Methotrexate","t":103,"s":0.834,"lo":0.808,"hi":0.865},
{"g":"Methotrexate","t":104,"s":0.834,"lo":0.808,"hi":0.865},
{"g":"Methotrexate","t":105,"s":0.834,"lo":0.808,"hi":0.865},
{"g":"Methotrexate","t":106,"s":0.834,"lo":0.808,"hi":0.865},
{"g":"Methotrexate","t":107,"s":0.834,"lo":0.808,"hi":0.865},
{"g":"Methotrexate","t":108,"s":0.834,"lo":0.808,"hi":0.865},
{"g":"Methotrexate","t":109,"s":0.834,"lo":0.808,"hi":0.865},
{"g":"Methotrexate","t":110,"s":0.834,"lo":0.808,"hi":0.865},
{"g":"Methotrexate","t":111,"s":0.834,"lo":0.808,"hi":0.865},
{"g":"Methotrexate","t":112,"s":0.834,"lo":0.808,"hi":0.865},
{"g":"Methotrexate","t":115,"s":0.834,"lo":0.808,"hi":0.865},
{"g":"Methotrexate","t":117.7,"s":0.834,"lo":0.808,"hi":0.865},
{"g":"Methotrexate","t":119.4,"s":0.834,"lo":0.808,"hi":0.865},
{"g":"Methotrexate","t":120.7,"s":0.812,"lo":0.78,"hi":0.862},
{"g":"Methotrexate","t":121.5,"s":0.812,"lo":0.78,"hi":0.862},
{"g":"Methotrexate","t":122.5,"s":0.812,"lo":0.78,"hi":0.862},
{"g":"Methotrexate","t":123.5,"s":0.812,"lo":0.78,"hi":0.862},
{"g":"Methotrexate","t":124.5,"s":0.812,"lo":0.78,"hi":0.862},
{"g":"Methotrexate","t":125.5,"s":0.812,"lo":0.78,"hi":0.862,"c":0},
{"g":"Other systemic","t":0,"s":1,"lo":1,"hi":1},
{"g":"Other systemic","t":1.3,"s":0.963,"lo":0.95,"hi":0.976},
{"g":"Other systemic","t":2.1,"s":0.949,"lo":0.934,"hi":0.964},
{"g":"Other systemic","t":3,"s":0.949,"lo":0.934,"hi":0.964},
{"g":"Other systemic","t":3.4,"s":0.927,"lo":0.91,"hi":0.944},
{"g":"Other systemic","t":4.2,"s":0.911,"lo":0.893,"hi":0.929},
{"g":"Other systemic","t":5,"s":0.911,"lo":0.893,"hi":0.929},
{"g":"Other systemic","t":5.5,"s":0.889,"lo":0.87,"hi":0.908},
{"g":"Other systemic","t":6,"s":0.889,"lo":0.87,"hi":0.908},
{"g":"Other systemic","t":6.7,"s":0.878,"lo":0.858,"hi":0.898},
{"g":"Other systemic","t":7.5,"s":0.878,"lo":0.858,"hi":0.898},
{"g":"Other systemic","t":8.4,"s":0.862,"lo":0.841,"hi":0.883},
{"g":"Other systemic","t":9,"s":0.862,"lo":0.841,"hi":0.883},
{"g":"Other systemic","t":9.6,"s":0.848,"lo":0.826,"hi":0.87},
{"g":"Other systemic","t":10.3,"s":0.848,"lo":0.826,"hi":0.87},
{"g":"Other systemic","t":10.9,"s":0.835,"lo":0.812,"hi":0.858},
{"g":"Other systemic","t":11.8,"s":0.818,"lo":0.795,"hi":0.841},
{"g":"Other systemic","t":12.5,"s":0.818,"lo":0.795,"hi":0.841},
{"g":"Other systemic","t":13.3,"s":0.818,"lo":0.795,"hi":0.841},
{"g":"Other systemic","t":14.3,"s":0.811,"lo":0.787,"hi":0.835},
{"g":"Other systemic","t":15,"s":0.811,"lo":0.787,"hi":0.835},
{"g":"Other systemic","t":16,"s":0.811,"lo":0.787,"hi":0.835},
{"g":"Other systemic","t":16.5,"s":0.805,"lo":0.781,"hi":0.829},
{"g":"Other systemic","t":17.3,"s":0.805,"lo":0.781,"hi":0.829},
{"g":"Other systemic","t":18.5,"s":0.8,"lo":0.775,"hi":0.825},
{"g":"Other systemic","t":19.5,"s":0.8,"lo":0.775,"hi":0.825},
{"g":"Other systemic","t":20.3,"s":0.8,"lo":0.775,"hi":0.825},
{"g":"Other systemic","t":21,"s":0.789,"lo":0.764,"hi":0.814},
{"g":"Other systemic","t":22,"s":0.789,"lo":0.764,"hi":0.814},
{"g":"Other systemic","t":22.8,"s":0.789,"lo":0.764,"hi":0.814},
{"g":"Other systemic","t":23.5,"s":0.78,"lo":0.754,"hi":0.806},
{"g":"Other systemic","t":24.5,"s":0.78,"lo":0.754,"hi":0.806},
{"g":"Other systemic","t":25.5,"s":0.776,"lo":0.75,"hi":0.802},
{"g":"Other systemic","t":26.5,"s":0.776,"lo":0.75,"hi":0.802},
{"g":"Other systemic","t":27.8,"s":0.772,"lo":0.737,"hi":0.808},
{"g":"Other systemic","t":29,"s":0.772,"lo":0.737,"hi":0.808},
{"g":"Other systemic","t":30,"s":0.772,"lo":0.737,"hi":0.808},
{"g":"Other systemic","t":31,"s":0.772,"lo":0.737,"hi":0.808},
{"g":"Other systemic","t":32,"s":0.772,"lo":0.737,"hi":0.808},
{"g":"Other systemic","t":33,"s":0.772,"lo":0.737,"hi":0.808},
{"g":"Other systemic","t":34,"s":0.772,"lo":0.737,"hi":0.808},
{"g":"Other systemic","t":35,"s":0.772,"lo":0.737,"hi":0.808},
{"g":"Other systemic","t":36,"s":0.772,"lo":0.737,"hi":0.808},
{"g":"Other systemic","t":37,"s":0.772,"lo":0.737,"hi":0.808},
{"g":"Other systemic","t":38,"s":0.772,"lo":0.737,"hi":0.808},
{"g":"Other systemic","t":39,"s":0.772,"lo":0.737,"hi":0.808},
{"g":"Other systemic","t":40,"s":0.772,"lo":0.737,"hi":0.808},
{"g":"Other systemic","t":41,"s":0.772,"lo":0.737,"hi":0.808},
{"g":"Other systemic","t":42,"s":0.772,"lo":0.737,"hi":0.808},
{"g":"Other systemic","t":43,"s":0.772,"lo":0.737,"hi":0.808},
{"g":"Other systemic","t":44,"s":0.772,"lo":0.737,"hi":0.808},
{"g":"Other systemic","t":45,"s":0.772,"lo":0.737,"hi":0.808},
{"g":"Other systemic","t":46,"s":0.772,"lo":0.737,"hi":0.808},
{"g":"Other systemic","t":47,"s":0.772,"lo":0.737,"hi":0.808},
{"g":"Other systemic","t":48,"s":0.772,"lo":0.737,"hi":0.808},
{"g":"Other systemic","t":49,"s":0.772,"lo":0.737,"hi":0.808},
{"g":"Other systemic","t":50,"s":0.772,"lo":0.737,"hi":0.808},
{"g":"Other systemic","t":51,"s":0.772,"lo":0.737,"hi":0.808},
{"g":"Other systemic","t":52,"s":0.772,"lo":0.737,"hi":0.808},
{"g":"Other systemic","t":53,"s":0.772,"lo":0.737,"hi":0.808},
{"g":"Other systemic","t":54,"s":0.772,"lo":0.737,"hi":0.808},
{"g":"Other systemic","t":55.5,"s":0.772,"lo":0.737,"hi":0.808},
{"g":"Other systemic","t":58,"s":0.772,"lo":0.737,"hi":0.808},
{"g":"Other systemic","t":60.5,"s":0.772,"lo":0.737,"hi":0.808},
{"g":"Other systemic","t":63.9,"s":0.772,"lo":0.737,"hi":0.808},
{"g":"Other systemic","t":64.8,"s":0.772,"lo":0.737,"hi":0.808},
{"g":"Other systemic","t":67.3,"s":0.772,"lo":0.737,"hi":0.808},
{"g":"Other systemic","t":68,"s":0.772,"lo":0.737,"hi":0.808},
{"g":"Other systemic","t":69.8,"s":0.772,"lo":0.737,"hi":0.808},
{"g":"Other systemic","t":72.3,"s":0.772,"lo":0.737,"hi":0.808},
{"g":"Other systemic","t":82.4,"s":0.772,"lo":0.737,"hi":0.808},
{"g":"Other systemic","t":83.3,"s":0.772,"lo":0.737,"hi":0.808},
{"g":"Other systemic","t":90,"s":0.772,"lo":0.737,"hi":0.808},
{"g":"Other systemic","t":96.7,"s":0.772,"lo":0.737,"hi":0.808},
{"g":"Other systemic","t":107.7,"s":0.772,"lo":0.737,"hi":0.808},
{"g":"Other systemic","t":110.2,"s":0.772,"lo":0.737,"hi":0.808},
{"g":"Other systemic","t":114.4,"s":0.772,"lo":0.737,"hi":0.808},
{"g":"Other systemic","t":122,"s":0.772,"lo":0.737,"hi":0.808},
{"g":"Other systemic","t":125,"s":0.772,"lo":0.737,"hi":0.808,"c":0}
],
"c": [
{"g":"Biologics","t":0,"s":1,"lo":1,"hi":1},
{"g":"Biologics","t":0.7,"s":0.963,"lo":0.95,"hi":0.976},
{"g":"Biologics","t":1.4,"s":0.932,"lo":0.916,"hi":0.948},
{"g":"Biologics","t":2.5,"s":0.89,"lo":0.872,"hi":0.908},
{"g":"Biologics","t":3,"s":0.89,"lo":0.872,"hi":0.908},
{"g":"Biologics","t":4,"s":0.874,"lo":0.855,"hi":0.893},
{"g":"Biologics","t":5.4,"s":0.853,"lo":0.833,"hi":0.873},
{"g":"Biologics","t":6,"s":0.853,"lo":0.833,"hi":0.873},
{"g":"Biologics","t":6.5,"s":0.838,"lo":0.817,"hi":0.859},
{"g":"Biologics","t":7,"s":0.838,"lo":0.817,"hi":0.859},
{"g":"Biologics","t":8.3,"s":0.822,"lo":0.8,"hi":0.844},
{"g":"Biologics","t":9,"s":0.822,"lo":0.8,"hi":0.844},
{"g":"Biologics","t":10.4,"s":0.806,"lo":0.783,"hi":0.829},
{"g":"Biologics","t":11,"s":0.806,"lo":0.783,"hi":0.829},
{"g":"Biologics","t":12,"s":0.806,"lo":0.783,"hi":0.829},
{"g":"Biologics","t":13.3,"s":0.796,"lo":0.772,"hi":0.82},
{"g":"Biologics","t":14,"s":0.796,"lo":0.772,"hi":0.82},
{"g":"Biologics","t":15,"s":0.796,"lo":0.772,"hi":0.82},
{"g":"Biologics","t":16,"s":0.796,"lo":0.772,"hi":0.82},
{"g":"Biologics","t":16.9,"s":0.78,"lo":0.755,"hi":0.805},
{"g":"Biologics","t":18,"s":0.78,"lo":0.755,"hi":0.805},
{"g":"Biologics","t":19,"s":0.78,"lo":0.755,"hi":0.805},
{"g":"Biologics","t":20.5,"s":0.77,"lo":0.744,"hi":0.796},
{"g":"Biologics","t":21,"s":0.77,"lo":0.744,"hi":0.796},
{"g":"Biologics","t":22,"s":0.77,"lo":0.744,"hi":0.796},
{"g":"Biologics","t":23,"s":0.77,"lo":0.744,"hi":0.796},
{"g":"Biologics","t":24,"s":0.77,"lo":0.744,"hi":0.796},
{"g":"Biologics","t":25.5,"s":0.764,"lo":0.737,"hi":0.791},
{"g":"Biologics","t":26,"s":0.764,"lo":0.737,"hi":0.791},
{"g":"Biologics","t":27,"s":0.764,"lo":0.737,"hi":0.791},
{"g":"Biologics","t":28,"s":0.764,"lo":0.737,"hi":0.791},
{"g":"Biologics","t":29.1,"s":0.759,"lo":0.731,"hi":0.787},
{"g":"Biologics","t":30,"s":0.759,"lo":0.731,"hi":0.787},
{"g":"Biologics","t":30.6,"s":0.749,"lo":0.72,"hi":0.778},
{"g":"Biologics","t":32,"s":0.749,"lo":0.72,"hi":0.778},
{"g":"Biologics","t":33,"s":0.749,"lo":0.72,"hi":0.778},
{"g":"Biologics","t":34,"s":0.749,"lo":0.72,"hi":0.778},
{"g":"Biologics","t":35.6,"s":0.738,"lo":0.707,"hi":0.769},
{"g":"Biologics","t":36,"s":0.738,"lo":0.707,"hi":0.769},
{"g":"Biologics","t":37,"s":0.728,"lo":0.696,"hi":0.76},
{"g":"Biologics","t":38,"s":0.728,"lo":0.696,"hi":0.76},
{"g":"Biologics","t":39,"s":0.728,"lo":0.696,"hi":0.76},
{"g":"Biologics","t":40.6,"s":0.723,"lo":0.69,"hi":0.756},
{"g":"Biologics","t":42,"s":0.723,"lo":0.69,"hi":0.756},
{"g":"Biologics","t":43,"s":0.723,"lo":0.69,"hi":0.756},
{"g":"Biologics","t":44,"s":0.723,"lo":0.69,"hi":0.756},
{"g":"Biologics","t":45,"s":0.723,"lo":0.69,"hi":0.756},
{"g":"Biologics","t":46,"s":0.718,"lo":0.684,"hi":0.752},
{"g":"Biologics","t":47,"s":0.718,"lo":0.684,"hi":0.752},
{"g":"Biologics","t":48,"s":0.718,"lo":0.684,"hi":0.752},
{"g":"Biologics","t":49,"s":0.718,"lo":0.684,"hi":0.752},
{"g":"Biologics","t":50,"s":0.718,"lo":0.684,"hi":0.752},
{"g":"Biologics","t":51,"s":0.718,"lo":0.684,"hi":0.752},
{"g":"Biologics","t":52,"s":0.718,"lo":0.684,"hi":0.752},
{"g":"Biologics","t":53,"s":0.718,"lo":0.684,"hi":0.752},
{"g":"Biologics","t":54,"s":0.718,"lo":0.684,"hi":0.752},
{"g":"Biologics","t":55,"s":0.718,"lo":0.684,"hi":0.752},
{"g":"Biologics","t":55.8,"s":0.712,"lo":0.668,"hi":0.756},
{"g":"Biologics","t":56.5,"s":0.707,"lo":0.659,"hi":0.755},
{"g":"Biologics","t":58,"s":0.707,"lo":0.659,"hi":0.755},
{"g":"Biologics","t":60,"s":0.707,"lo":0.659,"hi":0.755},
{"g":"Biologics","t":62,"s":0.707,"lo":0.659,"hi":0.755},
{"g":"Biologics","t":65.2,"s":0.707,"lo":0.659,"hi":0.755},
{"g":"Biologics","t":69.1,"s":0.707,"lo":0.659,"hi":0.755},
{"g":"Biologics","t":69.9,"s":0.707,"lo":0.659,"hi":0.755},
{"g":"Biologics","t":70.6,"s":0.707,"lo":0.659,"hi":0.755},
{"g":"Biologics","t":71.3,"s":0.707,"lo":0.659,"hi":0.755},
{"g":"Biologics","t":72.4,"s":0.707,"lo":0.659,"hi":0.755},
{"g":"Biologics","t":74.8,"s":0.707,"lo":0.659,"hi":0.755},
{"g":"Biologics","t":77,"s":0.707,"lo":0.659,"hi":0.755},
{"g":"Biologics","t":80.8,"s":0.679,"lo":0.617,"hi":0.75,"c":0},
{"g":"Biologics","t":82.7,"s":0.679,"lo":0.617,"hi":0.75},
{"g":"Biologics","t":84.1,"s":0.679,"lo":0.617,"hi":0.75},
{"g":"Biologics","t":85.5,"s":0.679,"lo":0.617,"hi":0.75},
{"g":"Biologics","t":87,"s":0.679,"lo":0.617,"hi":0.75},
{"g":"Biologics","t":88,"s":0.679,"lo":0.617,"hi":0.75},
{"g":"Biologics","t":91.9,"s":0.679,"lo":0.617,"hi":0.75},
{"g":"Biologics","t":93,"s":0.679,"lo":0.617,"hi":0.75},
{"g":"Biologics","t":94.1,"s":0.679,"lo":0.617,"hi":0.75},
{"g":"Biologics","t":95.2,"s":0.679,"lo":0.617,"hi":0.75},
{"g":"Biologics","t":96.6,"s":0.679,"lo":0.617,"hi":0.75},
{"g":"Biologics","t":100.9,"s":0.679,"lo":0.617,"hi":0.75},
{"g":"Biologics","t":105.1,"s":0.679,"lo":0.617,"hi":0.75},
{"g":"Biologics","t":105.8,"s":0.679,"lo":0.617,"hi":0.75},
{"g":"Biologics","t":106.6,"s":0.679,"lo":0.617,"hi":0.75},
{"g":"Biologics","t":109.8,"s":0.679,"lo":0.617,"hi":0.75},
{"g":"Biologics","t":110.5,"s":0.679,"lo":0.617,"hi":0.75},
{"g":"Biologics","t":113.7,"s":0.679,"lo":0.617,"hi":0.75},
{"g":"Biologics","t":116.5,"s":0.679,"lo":0.617,"hi":0.75},
{"g":"Biologics","t":120.4,"s":0.679,"lo":0.617,"hi":0.75},
{"g":"Biologics","t":123.6,"s":0.679,"lo":0.617,"hi":0.75},
{"g":"Biologics","t":125.5,"s":0.679,"lo":0.617,"hi":0.75,"c":0},
{"g":"Methotrexate","t":0,"s":1,"lo":1,"hi":1},
{"g":"Methotrexate","t":1.1,"s":0.979,"lo":0.97,"hi":0.988},
{"g":"Methotrexate","t":2.2,"s":0.958,"lo":0.947,"hi":0.969},
{"g":"Methotrexate","t":2.9,"s":0.927,"lo":0.915,"hi":0.939},
{"g":"Methotrexate","t":4,"s":0.9,"lo":0.887,"hi":0.913},
{"g":"Methotrexate","t":5,"s":0.874,"lo":0.86,"hi":0.888},
{"g":"Methotrexate","t":6.5,"s":0.848,"lo":0.833,"hi":0.863},
{"g":"Methotrexate","t":8.3,"s":0.827,"lo":0.812,"hi":0.842},
{"g":"Methotrexate","t":10.4,"s":0.806,"lo":0.79,"hi":0.822},
{"g":"Methotrexate","t":12.6,"s":0.785,"lo":0.769,"hi":0.801},
{"g":"Methotrexate","t":14,"s":0.77,"lo":0.754,"hi":0.786},
{"g":"Methotrexate","t":15.5,"s":0.754,"lo":0.737,"hi":0.771},
{"g":"Methotrexate","t":17,"s":0.743,"lo":0.726,"hi":0.76},
{"g":"Methotrexate","t":18.3,"s":0.733,"lo":0.716,"hi":0.75},
{"g":"Methotrexate","t":19.8,"s":0.722,"lo":0.705,"hi":0.739},
{"g":"Methotrexate","t":21.2,"s":0.712,"lo":0.694,"hi":0.73},
{"g":"Methotrexate","t":22.6,"s":0.704,"lo":0.686,"hi":0.722},
{"g":"Methotrexate","t":24.1,"s":0.696,"lo":0.678,"hi":0.714},
{"g":"Methotrexate","t":25.5,"s":0.689,"lo":0.671,"hi":0.707},
{"g":"Methotrexate","t":27,"s":0.681,"lo":0.662,"hi":0.7},
{"g":"Methotrexate","t":28.4,"s":0.673,"lo":0.654,"hi":0.692},
{"g":"Methotrexate","t":29.9,"s":0.665,"lo":0.646,"hi":0.684},
{"g":"Methotrexate","t":31.3,"s":0.657,"lo":0.638,"hi":0.676},
{"g":"Methotrexate","t":32.7,"s":0.649,"lo":0.63,"hi":0.668},
{"g":"Methotrexate","t":34.9,"s":0.639,"lo":0.619,"hi":0.659},
{"g":"Methotrexate","t":37,"s":0.623,"lo":0.603,"hi":0.643},
{"g":"Methotrexate","t":38.5,"s":0.615,"lo":0.595,"hi":0.635},
{"g":"Methotrexate","t":39.9,"s":0.607,"lo":0.586,"hi":0.628},
{"g":"Methotrexate","t":41.3,"s":0.6,"lo":0.579,"hi":0.621},
{"g":"Methotrexate","t":42.8,"s":0.592,"lo":0.571,"hi":0.613},
{"g":"Methotrexate","t":44.2,"s":0.584,"lo":0.563,"hi":0.605},
{"g":"Methotrexate","t":45.7,"s":0.576,"lo":0.554,"hi":0.598},
{"g":"Methotrexate","t":47.1,"s":0.568,"lo":0.546,"hi":0.59},
{"g":"Methotrexate","t":48.6,"s":0.56,"lo":0.538,"hi":0.582},
{"g":"Methotrexate","t":50,"s":0.555,"lo":0.532,"hi":0.578},
{"g":"Methotrexate","t":51.4,"s":0.55,"lo":0.527,"hi":0.573},
{"g":"Methotrexate","t":52.9,"s":0.545,"lo":0.521,"hi":0.569},
{"g":"Methotrexate","t":54.3,"s":0.539,"lo":0.515,"hi":0.563},
{"g":"Methotrexate","t":55.8,"s":0.534,"lo":0.51,"hi":0.558},
{"g":"Methotrexate","t":57.2,"s":0.529,"lo":0.504,"hi":0.554},
{"g":"Methotrexate","t":58.7,"s":0.524,"lo":0.499,"hi":0.549},
{"g":"Methotrexate","t":60.1,"s":0.518,"lo":0.492,"hi":0.544},
{"g":"Methotrexate","t":61,"s":0.518,"lo":0.492,"hi":0.544},
{"g":"Methotrexate","t":62,"s":0.518,"lo":0.492,"hi":0.544},
{"g":"Methotrexate","t":63,"s":0.513,"lo":0.487,"hi":0.539},
{"g":"Methotrexate","t":64,"s":0.513,"lo":0.487,"hi":0.539},
{"g":"Methotrexate","t":65,"s":0.513,"lo":0.487,"hi":0.539},
{"g":"Methotrexate","t":66,"s":0.51,"lo":0.484,"hi":0.536},
{"g":"Methotrexate","t":67,"s":0.51,"lo":0.484,"hi":0.536},
{"g":"Methotrexate","t":68,"s":0.51,"lo":0.484,"hi":0.536},
{"g":"Methotrexate","t":69,"s":0.51,"lo":0.484,"hi":0.536},
{"g":"Methotrexate","t":70,"s":0.505,"lo":0.479,"hi":0.531},
{"g":"Methotrexate","t":71,"s":0.505,"lo":0.479,"hi":0.531},
{"g":"Methotrexate","t":72,"s":0.505,"lo":0.479,"hi":0.531},
{"g":"Methotrexate","t":73.7,"s":0.5,"lo":0.473,"hi":0.527},
{"g":"Methotrexate","t":75,"s":0.5,"lo":0.473,"hi":0.527},
{"g":"Methotrexate","t":76.6,"s":0.49,"lo":0.462,"hi":0.518},
{"g":"Methotrexate","t":78,"s":0.49,"lo":0.462,"hi":0.518},
{"g":"Methotrexate","t":79,"s":0.49,"lo":0.462,"hi":0.518},
{"g":"Methotrexate","t":80,"s":0.485,"lo":0.457,"hi":0.513},
{"g":"Methotrexate","t":81,"s":0.485,"lo":0.457,"hi":0.513},
{"g":"Methotrexate","t":82,"s":0.485,"lo":0.457,"hi":0.513},
{"g":"Methotrexate","t":83.8,"s":0.479,"lo":0.45,"hi":0.508},
{"g":"Methotrexate","t":85,"s":0.479,"lo":0.45,"hi":0.508},
{"g":"Methotrexate","t":86.5,"s":0.472,"lo":0.442,"hi":0.502},
{"g":"Methotrexate","t":88,"s":0.472,"lo":0.442,"hi":0.502},
{"g":"Methotrexate","t":89.5,"s":0.464,"lo":0.434,"hi":0.494},
{"g":"Methotrexate","t":90.5,"s":0.464,"lo":0.434,"hi":0.494},
{"g":"Methotrexate","t":91.5,"s":0.456,"lo":0.425,"hi":0.487},
{"g":"Methotrexate","t":92.5,"s":0.456,"lo":0.425,"hi":0.487},
{"g":"Methotrexate","t":93.8,"s":0.448,"lo":0.416,"hi":0.48},
{"g":"Methotrexate","t":95,"s":0.448,"lo":0.416,"hi":0.48},
{"g":"Methotrexate","t":96.6,"s":0.443,"lo":0.41,"hi":0.476},
{"g":"Methotrexate","t":98,"s":0.443,"lo":0.41,"hi":0.476},
{"g":"Methotrexate","t":99,"s":0.443,"lo":0.41,"hi":0.476},
{"g":"Methotrexate","t":100,"s":0.44,"lo":0.407,"hi":0.473},
{"g":"Methotrexate","t":101,"s":0.44,"lo":0.407,"hi":0.473},
{"g":"Methotrexate","t":102,"s":0.44,"lo":0.407,"hi":0.473},
{"g":"Methotrexate","t":103.8,"s":0.438,"lo":0.404,"hi":0.472},
{"g":"Methotrexate","t":105.1,"s":0.427,"lo":0.392,"hi":0.462},
{"g":"Methotrexate","t":106,"s":0.427,"lo":0.392,"hi":0.462},
{"g":"Methotrexate","t":107,"s":0.427,"lo":0.392,"hi":0.462},
{"g":"Methotrexate","t":108,"s":0.417,"lo":0.382,"hi":0.452},
{"g":"Methotrexate","t":109,"s":0.417,"lo":0.382,"hi":0.452},
{"g":"Methotrexate","t":110,"s":0.412,"lo":0.366,"hi":0.45},
{"g":"Methotrexate","t":111,"s":0.412,"lo":0.366,"hi":0.45},
{"g":"Methotrexate","t":112.2,"s":0.406,"lo":0.353,"hi":0.45},
{"g":"Methotrexate","t":115,"s":0.406,"lo":0.353,"hi":0.45},
{"g":"Methotrexate","t":117.2,"s":0.406,"lo":0.353,"hi":0.45},
{"g":"Methotrexate","t":119.4,"s":0.396,"lo":0.349,"hi":0.448},
{"g":"Methotrexate","t":120.5,"s":0.396,"lo":0.349,"hi":0.448},
{"g":"Methotrexate","t":121.5,"s":0.396,"lo":0.349,"hi":0.448},
{"g":"Methotrexate","t":122.5,"s":0.396,"lo":0.349,"hi":0.448},
{"g":"Methotrexate","t":123.5,"s":0.396,"lo":0.349,"hi":0.448},
{"g":"Methotrexate","t":124.3,"s":0.396,"lo":0.349,"hi":0.448},
{"g":"Methotrexate","t":125.5,"s":0.396,"lo":0.349,"hi":0.448,"c":0},
{"g":"Other systemic","t":0,"s":1,"lo":1,"hi":1},
{"g":"Other systemic","t":0.7,"s":0.953,"lo":0.935,"hi":0.971},
{"g":"Other systemic","t":1.4,"s":0.921,"lo":0.9,"hi":0.942},
{"g":"Other systemic","t":2.2,"s":0.895,"lo":0.872,"hi":0.918},
{"g":"Other systemic","t":2.9,"s":0.869,"lo":0.845,"hi":0.893},
{"g":"Other systemic","t":4,"s":0.838,"lo":0.813,"hi":0.863},
{"g":"Other systemic","t":5.4,"s":0.806,"lo":0.78,"hi":0.832},
{"g":"Other systemic","t":6.8,"s":0.775,"lo":0.748,"hi":0.802},
{"g":"Other systemic","t":8.3,"s":0.749,"lo":0.721,"hi":0.777},
{"g":"Other systemic","t":9,"s":0.749,"lo":0.721,"hi":0.777},
{"g":"Other systemic","t":10.4,"s":0.723,"lo":0.693,"hi":0.753},
{"g":"Other systemic","t":11.5,"s":0.723,"lo":0.693,"hi":0.753},
{"g":"Other systemic","t":12.6,"s":0.696,"lo":0.664,"hi":0.728},
{"g":"Other systemic","t":13.5,"s":0.696,"lo":0.664,"hi":0.728},
{"g":"Other systemic","t":14.7,"s":0.67,"lo":0.636,"hi":0.704},
{"g":"Other systemic","t":15.5,"s":0.67,"lo":0.636,"hi":0.704},
{"g":"Other systemic","t":16.9,"s":0.644,"lo":0.609,"hi":0.679},
{"g":"Other systemic","t":18,"s":0.644,"lo":0.609,"hi":0.679},
{"g":"Other systemic","t":19.8,"s":0.618,"lo":0.582,"hi":0.654},
{"g":"Other systemic","t":21,"s":0.618,"lo":0.582,"hi":0.654},
{"g":"Other systemic","t":22.7,"s":0.602,"lo":0.565,"hi":0.639},
{"g":"Other systemic","t":24,"s":0.602,"lo":0.565,"hi":0.639},
{"g":"Other systemic","t":25,"s":0.602,"lo":0.565,"hi":0.639},
{"g":"Other systemic","t":26.3,"s":0.597,"lo":0.559,"hi":0.635},
{"g":"Other systemic","t":27,"s":0.597,"lo":0.559,"hi":0.635},
{"g":"Other systemic","t":28.4,"s":0.581,"lo":0.542,"hi":0.62},
{"g":"Other systemic","t":30,"s":0.581,"lo":0.542,"hi":0.62},
{"g":"Other systemic","t":31.3,"s":0.565,"lo":0.525,"hi":0.605},
{"g":"Other systemic","t":33,"s":0.565,"lo":0.525,"hi":0.605},
{"g":"Other systemic","t":34.2,"s":0.555,"lo":0.514,"hi":0.596},
{"g":"Other systemic","t":35.5,"s":0.555,"lo":0.514,"hi":0.596},
{"g":"Other systemic","t":37,"s":0.55,"lo":0.508,"hi":0.592},
{"g":"Other systemic","t":38.5,"s":0.55,"lo":0.508,"hi":0.592},
{"g":"Other systemic","t":39.9,"s":0.545,"lo":0.502,"hi":0.588},
{"g":"Other systemic","t":41.5,"s":0.545,"lo":0.502,"hi":0.588},
{"g":"Other systemic","t":42.8,"s":0.534,"lo":0.49,"hi":0.578},
{"g":"Other systemic","t":44,"s":0.534,"lo":0.49,"hi":0.578},
{"g":"Other systemic","t":45.7,"s":0.529,"lo":0.484,"hi":0.574},
{"g":"Other systemic","t":46.5,"s":0.529,"lo":0.484,"hi":0.574},
{"g":"Other systemic","t":47.1,"s":0.518,"lo":0.47,"hi":0.566,"c":0},
{"g":"Other systemic","t":47.5,"s":0.503,"lo":0.452,"hi":0.554},
{"g":"Other systemic","t":49.3,"s":0.492,"lo":0.44,"hi":0.544},
{"g":"Other systemic","t":50.5,"s":0.492,"lo":0.44,"hi":0.544},
{"g":"Other systemic","t":52.2,"s":0.476,"lo":0.422,"hi":0.53},
{"g":"Other systemic","t":53.5,"s":0.476,"lo":0.422,"hi":0.53},
{"g":"Other systemic","t":55.8,"s":0.466,"lo":0.411,"hi":0.521},
{"g":"Other systemic","t":57,"s":0.466,"lo":0.411,"hi":0.521},
{"g":"Other systemic","t":59,"s":0.466,"lo":0.411,"hi":0.521},
{"g":"Other systemic","t":60.5,"s":0.466,"lo":0.411,"hi":0.521},
{"g":"Other systemic","t":62.4,"s":0.458,"lo":0.4,"hi":0.516},
{"g":"Other systemic","t":63.4,"s":0.458,"lo":0.4,"hi":0.516},
{"g":"Other systemic","t":64.5,"s":0.448,"lo":0.385,"hi":0.511,"c":0},
{"g":"Other systemic","t":65.2,"s":0.427,"lo":0.345,"hi":0.51},
{"g":"Other systemic","t":65.9,"s":0.427,"lo":0.345,"hi":0.51},
{"g":"Other systemic","t":67.3,"s":0.427,"lo":0.345,"hi":0.51},
{"g":"Other systemic","t":68.7,"s":0.427,"lo":0.345,"hi":0.51},
{"g":"Other systemic","t":69.8,"s":0.427,"lo":0.345,"hi":0.51},
{"g":"Other systemic","t":72.7,"s":0.396,"lo":0.318,"hi":0.48},
{"g":"Other systemic","t":83,"s":0.396,"lo":0.318,"hi":0.48},
{"g":"Other systemic","t":83.8,"s":0.359,"lo":0.262,"hi":0.46},
{"g":"Other systemic","t":84.7,"s":0.359,"lo":0.262,"hi":0.46},
{"g":"Other systemic","t":91.8,"s":0.359,"lo":0.262,"hi":0.46},
{"g":"Other systemic","t":97.2,"s":0.359,"lo":0.262,"hi":0.46},
{"g":"Other systemic","t":98,"s":0.359,"lo":0.262,"hi":0.46},
{"g":"Other systemic","t":108.7,"s":0.271,"lo":0.141,"hi":0.505,"c":0},
{"g":"Other systemic","t":112,"s":0.271,"lo":0.141,"hi":0.505},
{"g":"Other systemic","t":116,"s":0.271,"lo":0.141,"hi":0.505},
{"g":"Other systemic","t":124.9,"s":0.271,"lo":0.141,"hi":0.505},
{"g":"Other systemic","t":125.2,"s":0.271,"lo":0.141,"hi":0.505,"c":0}
],
"d": [
{"g":"Biologics","t":0,"s":0,"lo":0,"hi":0},
{"g":"Biologics","t":2.9,"s":0.082,"lo":0.05,"hi":0.115,"c":0},
{"g":"Biologics","t":4,"s":0.185,"lo":0.14,"hi":0.23,"c":0},
{"g":"Biologics","t":5,"s":0.305,"lo":0.255,"hi":0.355,"c":0},
{"g":"Biologics","t":6.1,"s":0.34,"lo":0.29,"hi":0.39,"c":0},
{"g":"Biologics","t":7.2,"s":0.357,"lo":0.305,"hi":0.409,"c":0},
{"g":"Biologics","t":8.3,"s":0.392,"lo":0.34,"hi":0.444,"c":0},
{"g":"Biologics","t":9.4,"s":0.404,"lo":0.352,"hi":0.456,"c":0},
{"g":"Biologics","t":10.4,"s":0.413,"lo":0.36,"hi":0.466},
{"g":"Biologics","t":11.9,"s":0.435,"lo":0.382,"hi":0.488,"c":0},
{"g":"Biologics","t":13.7,"s":0.452,"lo":0.398,"hi":0.506},
{"g":"Biologics","t":15.5,"s":0.465,"lo":0.41,"hi":0.52,"c":0},
{"g":"Biologics","t":17.6,"s":0.478,"lo":0.422,"hi":0.534},
{"g":"Biologics","t":18.7,"s":0.486,"lo":0.43,"hi":0.542,"c":0},
{"g":"Biologics","t":19.8,"s":0.495,"lo":0.438,"hi":0.552},
{"g":"Biologics","t":21,"s":0.495,"lo":0.438,"hi":0.552},
{"g":"Biologics","t":22,"s":0.51,"lo":0.452,"hi":0.568},
{"g":"Biologics","t":23,"s":0.51,"lo":0.452,"hi":0.568},
{"g":"Biologics","t":24.1,"s":0.525,"lo":0.466,"hi":0.584},
{"g":"Biologics","t":25,"s":0.525,"lo":0.466,"hi":0.584},
{"g":"Biologics","t":26,"s":0.536,"lo":0.476,"hi":0.596},
{"g":"Biologics","t":27,"s":0.536,"lo":0.476,"hi":0.596},
{"g":"Biologics","t":28.4,"s":0.546,"lo":0.485,"hi":0.607},
{"g":"Biologics","t":29.5,"s":0.546,"lo":0.485,"hi":0.607},
{"g":"Biologics","t":30.5,"s":0.546,"lo":0.485,"hi":0.607},
{"g":"Biologics","t":31.5,"s":0.546,"lo":0.485,"hi":0.607},
{"g":"Biologics","t":32.7,"s":0.555,"lo":0.493,"hi":0.617},
{"g":"Biologics","t":34,"s":0.555,"lo":0.493,"hi":0.617},
{"g":"Biologics","t":35,"s":0.555,"lo":0.493,"hi":0.617},
{"g":"Biologics","t":37,"s":0.559,"lo":0.496,"hi":0.622},
{"g":"Biologics","t":38.5,"s":0.559,"lo":0.496,"hi":0.622},
{"g":"Biologics","t":40.6,"s":0.564,"lo":0.5,"hi":0.628},
{"g":"Biologics","t":42,"s":0.564,"lo":0.5,"hi":0.628},
{"g":"Biologics","t":44.2,"s":0.572,"lo":0.507,"hi":0.637},
{"g":"Biologics","t":46,"s":0.572,"lo":0.507,"hi":0.637},
{"g":"Biologics","t":47.1,"s":0.581,"lo":0.515,"hi":0.647,"c":0},
{"g":"Biologics","t":48.6,"s":0.589,"lo":0.522,"hi":0.656},
{"g":"Biologics","t":50,"s":0.607,"lo":0.536,"hi":0.669},
{"g":"Biologics","t":52,"s":0.607,"lo":0.536,"hi":0.669},
{"g":"Biologics","t":55,"s":0.607,"lo":0.536,"hi":0.669},
{"g":"Biologics","t":58,"s":0.607,"lo":0.536,"hi":0.669},
{"g":"Biologics","t":62,"s":0.607,"lo":0.536,"hi":0.669},
{"g":"Biologics","t":66.7,"s":0.607,"lo":0.536,"hi":0.669},
{"g":"Biologics","t":70.3,"s":0.607,"lo":0.536,"hi":0.669},
{"g":"Biologics","t":73.8,"s":0.607,"lo":0.536,"hi":0.669},
{"g":"Biologics","t":77.4,"s":0.607,"lo":0.536,"hi":0.669},
{"g":"Biologics","t":81,"s":0.607,"lo":0.536,"hi":0.669},
{"g":"Biologics","t":81.7,"s":0.639,"lo":0.559,"hi":0.701,"c":0},
{"g":"Biologics","t":82.7,"s":0.639,"lo":0.559,"hi":0.701},
{"g":"Biologics","t":87.4,"s":0.639,"lo":0.559,"hi":0.701},
{"g":"Biologics","t":93.5,"s":0.66,"lo":0.567,"hi":0.729,"c":0},
{"g":"Biologics","t":94.6,"s":0.66,"lo":0.567,"hi":0.729},
{"g":"Biologics","t":97.8,"s":0.66,"lo":0.567,"hi":0.729},
{"g":"Biologics","t":101.7,"s":0.66,"lo":0.567,"hi":0.729},
{"g":"Biologics","t":106.7,"s":0.66,"lo":0.567,"hi":0.729},
{"g":"Biologics","t":107.8,"s":0.66,"lo":0.567,"hi":0.729},
{"g":"Biologics","t":108.8,"s":0.66,"lo":0.567,"hi":0.729},
{"g":"Biologics","t":119.9,"s":0.66,"lo":0.567,"hi":0.729},
{"g":"Biologics","t":120.9,"s":0.66,"lo":0.567,"hi":0.729},
{"g":"Biologics","t":122.4,"s":0.66,"lo":0.567,"hi":0.729},
{"g":"Biologics","t":125.5,"s":0.66,"lo":0.567,"hi":0.729,"c":0},
{"g":"Methotrexate","t":0,"s":0,"lo":0,"hi":0},
{"g":"Methotrexate","t":2.9,"s":0.099,"lo":0.08,"hi":0.118,"c":0},
{"g":"Methotrexate","t":4,"s":0.219,"lo":0.195,"hi":0.243,"c":0},
{"g":"Methotrexate","t":4.7,"s":0.305,"lo":0.28,"hi":0.33,"c":0},
{"g":"Methotrexate","t":5.4,"s":0.353,"lo":0.328,"hi":0.378,"c":0},
{"g":"Methotrexate","t":6.5,"s":0.396,"lo":0.371,"hi":0.421,"c":0},
{"g":"Methotrexate","t":7.6,"s":0.426,"lo":0.401,"hi":0.451,"c":0},
{"g":"Methotrexate","t":9,"s":0.448,"lo":0.423,"hi":0.473,"c":0},
{"g":"Methotrexate","t":10.4,"s":0.465,"lo":0.44,"hi":0.49,"c":0},
{"g":"Methotrexate","t":11.9,"s":0.486,"lo":0.461,"hi":0.511},
{"g":"Methotrexate","t":13.3,"s":0.503,"lo":0.478,"hi":0.528},
{"g":"Methotrexate","t":14.4,"s":0.503,"lo":0.478,"hi":0.528},
{"g":"Methotrexate","t":15.5,"s":0.516,"lo":0.491,"hi":0.541},
{"g":"Methotrexate","t":16.9,"s":0.516,"lo":0.491,"hi":0.541},
{"g":"Methotrexate","t":18.3,"s":0.534,"lo":0.509,"hi":0.559},
{"g":"Methotrexate","t":19.7,"s":0.534,"lo":0.509,"hi":0.559},
{"g":"Methotrexate","t":21.2,"s":0.546,"lo":0.521,"hi":0.571},
{"g":"Methotrexate","t":23,"s":0.546,"lo":0.521,"hi":0.571},
{"g":"Methotrexate","t":24.8,"s":0.559,"lo":0.534,"hi":0.584},
{"g":"Methotrexate","t":26.6,"s":0.559,"lo":0.534,"hi":0.584},
{"g":"Methotrexate","t":28.4,"s":0.568,"lo":0.543,"hi":0.593},
{"g":"Methotrexate","t":29.5,"s":0.568,"lo":0.543,"hi":0.593},
{"g":"Methotrexate","t":30.6,"s":0.568,"lo":0.543,"hi":0.593},
{"g":"Methotrexate","t":31.7,"s":0.568,"lo":0.543,"hi":0.593},
{"g":"Methotrexate","t":32.7,"s":0.577,"lo":0.552,"hi":0.602},
{"g":"Methotrexate","t":34,"s":0.577,"lo":0.552,"hi":0.602},
{"g":"Methotrexate","t":35.5,"s":0.577,"lo":0.552,"hi":0.602},
{"g":"Methotrexate","t":37,"s":0.581,"lo":0.556,"hi":0.606},
{"g":"Methotrexate","t":38.5,"s":0.581,"lo":0.556,"hi":0.606},
{"g":"Methotrexate","t":40,"s":0.581,"lo":0.556,"hi":0.606},
{"g":"Methotrexate","t":41.4,"s":0.589,"lo":0.564,"hi":0.614},
{"g":"Methotrexate","t":42.8,"s":0.589,"lo":0.564,"hi":0.614},
{"g":"Methotrexate","t":44.2,"s":0.589,"lo":0.564,"hi":0.614},
{"g":"Methotrexate","t":45.7,"s":0.594,"lo":0.569,"hi":0.619},
{"g":"Methotrexate","t":47,"s":0.594,"lo":0.569,"hi":0.619},
{"g":"Methotrexate","t":48.5,"s":0.594,"lo":0.569,"hi":0.619},
{"g":"Methotrexate","t":50,"s":0.602,"lo":0.577,"hi":0.627},
{"g":"Methotrexate","t":51.5,"s":0.602,"lo":0.577,"hi":0.627},
{"g":"Methotrexate","t":53,"s":0.602,"lo":0.577,"hi":0.627},
{"g":"Methotrexate","t":54.3,"s":0.606,"lo":0.581,"hi":0.631},
{"g":"Methotrexate","t":55.8,"s":0.606,"lo":0.581,"hi":0.631},
{"g":"Methotrexate","t":57.4,"s":0.609,"lo":0.584,"hi":0.634},
{"g":"Methotrexate","t":59,"s":0.609,"lo":0.584,"hi":0.634},
{"g":"Methotrexate","t":61,"s":0.614,"lo":0.589,"hi":0.639},
{"g":"Methotrexate","t":62.8,"s":0.614,"lo":0.589,"hi":0.639},
{"g":"Methotrexate","t":64.6,"s":0.619,"lo":0.594,"hi":0.644},
{"g":"Methotrexate","t":66.3,"s":0.619,"lo":0.594,"hi":0.644},
{"g":"Methotrexate","t":68,"s":0.625,"lo":0.6,"hi":0.65},
{"g":"Methotrexate","t":70,"s":0.625,"lo":0.6,"hi":0.65},
{"g":"Methotrexate","t":71.7,"s":0.63,"lo":0.605,"hi":0.655},
{"g":"Methotrexate","t":73,"s":0.63,"lo":0.605,"hi":0.655},
{"g":"Methotrexate","t":74.5,"s":0.63,"lo":0.605,"hi":0.655},
{"g":"Methotrexate","t":76,"s":0.63,"lo":0.605,"hi":0.655},
{"g":"Methotrexate","t":77.5,"s":0.63,"lo":0.605,"hi":0.655},
{"g":"Methotrexate","t":79,"s":0.63,"lo":0.605,"hi":0.655},
{"g":"Methotrexate","t":80.5,"s":0.63,"lo":0.605,"hi":0.655},
{"g":"Methotrexate","t":81.7,"s":0.636,"lo":0.611,"hi":0.661},
{"g":"Methotrexate","t":83,"s":0.636,"lo":0.611,"hi":0.661},
{"g":"Methotrexate","t":84.5,"s":0.636,"lo":0.611,"hi":0.661},
{"g":"Methotrexate","t":86,"s":0.636,"lo":0.611,"hi":0.661},
{"g":"Methotrexate","t":87.5,"s":0.636,"lo":0.611,"hi":0.661},
{"g":"Methotrexate","t":89,"s":0.636,"lo":0.611,"hi":0.661},
{"g":"Methotrexate","t":90.5,"s":0.636,"lo":0.611,"hi":0.661},
{"g":"Methotrexate","t":92,"s":0.636,"lo":0.611,"hi":0.661},
{"g":"Methotrexate","t":93.1,"s":0.639,"lo":0.614,"hi":0.664},
{"g":"Methotrexate","t":94.5,"s":0.639,"lo":0.614,"hi":0.664},
{"g":"Methotrexate","t":96,"s":0.639,"lo":0.614,"hi":0.664},
{"g":"Methotrexate","t":97.5,"s":0.639,"lo":0.614,"hi":0.664},
{"g":"Methotrexate","t":99,"s":0.639,"lo":0.614,"hi":0.664},
{"g":"Methotrexate","t":100.5,"s":0.639,"lo":0.614,"hi":0.664},
{"g":"Methotrexate","t":102,"s":0.639,"lo":0.614,"hi":0.664},
{"g":"Methotrexate","t":103.5,"s":0.639,"lo":0.614,"hi":0.664},
{"g":"Methotrexate","t":105,"s":0.639,"lo":0.614,"hi":0.664},
{"g":"Methotrexate","t":106.5,"s":0.639,"lo":0.614,"hi":0.664},
{"g":"Methotrexate","t":108,"s":0.639,"lo":0.614,"hi":0.664},
{"g":"Methotrexate","t":109.5,"s":0.639,"lo":0.614,"hi":0.664},
{"g":"Methotrexate","t":111,"s":0.639,"lo":0.614,"hi":0.664},
{"g":"Methotrexate","t":112.5,"s":0.639,"lo":0.614,"hi":0.664},
{"g":"Methotrexate","t":114.6,"s":0.641,"lo":0.616,"hi":0.666},
{"g":"Methotrexate","t":116,"s":0.641,"lo":0.616,"hi":0.666},
{"g":"Methotrexate","t":117.5,"s":0.641,"lo":0.616,"hi":0.666},
{"g":"Methotrexate","t":119,"s":0.641,"lo":0.616,"hi":0.666},
{"g":"Methotrexate","t":120,"s":0.645,"lo":0.62,"hi":0.67},
{"g":"Methotrexate","t":121.5,"s":0.645,"lo":0.62,"hi":0.67},
{"g":"Methotrexate","t":123,"s":0.645,"lo":0.62,"hi":0.67},
{"g":"Methotrexate","t":124.5,"s":0.647,"lo":0.622,"hi":0.672},
{"g":"Methotrexate","t":125.5,"s":0.647,"lo":0.622,"hi":0.672,"c":0},
{"g":"Other systemic","t":0,"s":0,"lo":0,"hi":0},
{"g":"Other systemic","t":2.9,"s":0.103,"lo":0.085,"hi":0.121,"c":0},
{"g":"Other systemic","t":4,"s":0.219,"lo":0.195,"hi":0.243,"c":0},
{"g":"Other systemic","t":5,"s":0.301,"lo":0.275,"hi":0.327,"c":0},
{"g":"Other systemic","t":6.1,"s":0.34,"lo":0.313,"hi":0.367,"c":0},
{"g":"Other systemic","t":7.2,"s":0.37,"lo":0.342,"hi":0.398,"c":0},
{"g":"Other systemic","t":8.3,"s":0.392,"lo":0.363,"hi":0.421,"c":0},
{"g":"Other systemic","t":10.4,"s":0.413,"lo":0.383,"hi":0.443},
{"g":"Other systemic","t":12.6,"s":0.435,"lo":0.404,"hi":0.466},
{"g":"Other systemic","t":14,"s":0.435,"lo":0.404,"hi":0.466},
{"g":"Other systemic","t":15.5,"s":0.443,"lo":0.411,"hi":0.475},
{"g":"Other systemic","t":16.9,"s":0.443,"lo":0.411,"hi":0.475},
{"g":"Other systemic","t":18.3,"s":0.452,"lo":0.419,"hi":0.485},
{"g":"Other systemic","t":19.7,"s":0.452,"lo":0.419,"hi":0.485},
{"g":"Other systemic","t":21.2,"s":0.46,"lo":0.426,"hi":0.494},
{"g":"Other systemic","t":23,"s":0.46,"lo":0.426,"hi":0.494},
{"g":"Other systemic","t":24.8,"s":0.473,"lo":0.438,"hi":0.508},
{"g":"Other systemic","t":26,"s":0.473,"lo":0.438,"hi":0.508},
{"g":"Other systemic","t":27.3,"s":0.473,"lo":0.438,"hi":0.508},
{"g":"Other systemic","t":28.6,"s":0.473,"lo":0.438,"hi":0.508},
{"g":"Other systemic","t":29.9,"s":0.478,"lo":0.442,"hi":0.514},
{"g":"Other systemic","t":31,"s":0.478,"lo":0.442,"hi":0.514},
{"g":"Other systemic","t":32,"s":0.478,"lo":0.442,"hi":0.514},
{"g":"Other systemic","t":33,"s":0.478,"lo":0.442,"hi":0.514},
{"g":"Other systemic","t":34.2,"s":0.482,"lo":0.445,"hi":0.519},
{"g":"Other systemic","t":35.6,"s":0.482,"lo":0.445,"hi":0.519},
{"g":"Other systemic","t":37,"s":0.486,"lo":0.448,"hi":0.524},
{"g":"Other systemic","t":38.5,"s":0.486,"lo":0.448,"hi":0.524},
{"g":"Other systemic","t":40,"s":0.486,"lo":0.448,"hi":0.524},
{"g":"Other systemic","t":41.4,"s":0.49,"lo":0.452,"hi":0.528},
{"g":"Other systemic","t":42.8,"s":0.49,"lo":0.452,"hi":0.528},
{"g":"Other systemic","t":44.2,"s":0.49,"lo":0.452,"hi":0.528},
{"g":"Other systemic","t":45.7,"s":0.497,"lo":0.458,"hi":0.536},
{"g":"Other systemic","t":47,"s":0.497,"lo":0.458,"hi":0.536},
{"g":"Other systemic","t":48.5,"s":0.497,"lo":0.458,"hi":0.536},
{"g":"Other systemic","t":50,"s":0.499,"lo":0.458,"hi":0.54},
{"g":"Other systemic","t":51.5,"s":0.499,"lo":0.458,"hi":0.54},
{"g":"Other systemic","t":53,"s":0.499,"lo":0.458,"hi":0.54},
{"g":"Other systemic","t":54.6,"s":0.51,"lo":0.467,"hi":0.557},
{"g":"Other systemic","t":56,"s":0.51,"lo":0.467,"hi":0.557},
{"g":"Other systemic","t":57.5,"s":0.51,"lo":0.467,"hi":0.557},
{"g":"Other systemic","t":59,"s":0.51,"lo":0.467,"hi":0.557},
{"g":"Other systemic","t":60.5,"s":0.51,"lo":0.467,"hi":0.557},
{"g":"Other systemic","t":62,"s":0.51,"lo":0.467,"hi":0.557},
{"g":"Other systemic","t":63.3,"s":0.51,"lo":0.467,"hi":0.557},
{"g":"Other systemic","t":64.6,"s":0.518,"lo":0.467,"hi":0.557},
{"g":"Other systemic","t":66,"s":0.518,"lo":0.467,"hi":0.557},
{"g":"Other systemic","t":67.5,"s":0.518,"lo":0.467,"hi":0.557},
{"g":"Other systemic","t":69,"s":0.518,"lo":0.467,"hi":0.557},
{"g":"Other systemic","t":70.5,"s":0.518,"lo":0.467,"hi":0.557},
{"g":"Other systemic","t":72,"s":0.518,"lo":0.467,"hi":0.557},
{"g":"Other systemic","t":73.2,"s":0.521,"lo":0.467,"hi":0.557},
{"g":"Other systemic","t":74.5,"s":0.521,"lo":0.467,"hi":0.557},
{"g":"Other systemic","t":76,"s":0.521,"lo":0.467,"hi":0.557},
{"g":"Other systemic","t":77.5,"s":0.521,"lo":0.467,"hi":0.557},
{"g":"Other systemic","t":79,"s":0.521,"lo":0.467,"hi":0.557},
{"g":"Other systemic","t":80.5,"s":0.521,"lo":0.467,"hi":0.557},
{"g":"Other systemic","t":81.7,"s":0.521,"lo":0.488,"hi":0.564},
{"g":"Other systemic","t":83.1,"s":0.524,"lo":0.488,"hi":0.564},
{"g":"Other systemic","t":84.5,"s":0.524,"lo":0.488,"hi":0.564},
{"g":"Other systemic","t":86,"s":0.524,"lo":0.488,"hi":0.564},
{"g":"Other systemic","t":87.5,"s":0.524,"lo":0.488,"hi":0.564},
{"g":"Other systemic","t":89,"s":0.524,"lo":0.488,"hi":0.564},
{"g":"Other systemic","t":90.5,"s":0.524,"lo":0.488,"hi":0.564},
{"g":"Other systemic","t":92,"s":0.524,"lo":0.488,"hi":0.564},
{"g":"Other systemic","t":93.1,"s":0.533,"lo":0.497,"hi":0.567},
{"g":"Other systemic","t":94.5,"s":0.533,"lo":0.497,"hi":0.567},
{"g":"Other systemic","t":95.5,"s":0.533,"lo":0.497,"hi":0.567},
{"g":"Other systemic","t":96.5,"s":0.533,"lo":0.497,"hi":0.567},
{"g":"Other systemic","t":97.5,"s":0.533,"lo":0.497,"hi":0.567},
{"g":"Other systemic","t":98.5,"s":0.533,"lo":0.497,"hi":0.567},
{"g":"Other systemic","t":102.5,"s":0.533,"lo":0.497,"hi":0.567},
{"g":"Other systemic","t":103.5,"s":0.533,"lo":0.497,"hi":0.567},
{"g":"Other systemic","t":104.5,"s":0.533,"lo":0.497,"hi":0.567},
{"g":"Other systemic","t":106.5,"s":0.533,"lo":0.497,"hi":0.567},
{"g":"Other systemic","t":107.4,"s":0.536,"lo":0.499,"hi":0.567},
{"g":"Other systemic","t":109,"s":0.536,"lo":0.499,"hi":0.567},
{"g":"Other systemic","t":110.5,"s":0.536,"lo":0.499,"hi":0.567},
{"g":"Other systemic","t":112,"s":0.536,"lo":0.499,"hi":0.567},
{"g":"Other systemic","t":114.5,"s":0.536,"lo":0.499,"hi":0.567},
{"g":"Other systemic","t":116,"s":0.536,"lo":0.499,"hi":0.567},
{"g":"Other systemic","t":117.5,"s":0.536,"lo":0.499,"hi":0.567},
{"g":"Other systemic","t":119,"s":0.536,"lo":0.499,"hi":0.567},
{"g":"Other systemic","t":120.5,"s":0.536,"lo":0.499,"hi":0.567},
{"g":"Other systemic","t":122,"s":0.536,"lo":0.499,"hi":0.567},
{"g":"Other systemic","t":123.5,"s":0.536,"lo":0.499,"hi":0.567},
{"g":"Other systemic","t":125,"s":0.536,"lo":0.499,"hi":0.567},
{"g":"Other systemic","t":125.5,"s":0.536,"lo":0.499,"hi":0.567,"c":0}
],
"aMed": [
{"t":0,"t2":52,"s":0.5,"s2":0.5},
{"t":10,"t2":10,"s":0,"s2":0.5},
{"t":24,"t2":24,"s":0,"s2":0.5},
{"t":52,"t2":52,"s":0,"s2":0.5}
],
"cMed": [
{"t":0,"t2":74,"s":0.5,"s2":0.5},
{"t":47,"t2":47,"s":0,"s2":0.5},
{"t":74,"t2":74,"s":0,"s2":0.5}
],
"dMed": [
{"t":0,"t2":50,"s":0.5,"s2":0.5},
{"t":13,"t2":13,"s":0,"s2":0.5},
{"t":18,"t2":18,"s":0,"s2":0.5},
{"t":50,"t2":50,"s":0,"s2":0.5}
]
},
"concat": [
{
"width": 612, "height": 334,
"title": {"text": "(a) Non-persistence (treatment discontinuation)", "dx": 28, "offset": -9},
"data": {"name": "a"},
"encoding": {
"x": {"field": "t", "type": "quantitative", "scale": {"domain": [-5.8, 125.5], "nice": false, "zero": false}, "axis": {"values": [0,12,24,36,48,60,72,84,96,108,120], "title": "Months from treatment initiation to first non-persistence"}},
"y": {"field": "s", "type": "quantitative", "scale": {"domain": [-0.05, 1.05], "nice": false, "zero": false}, "axis": {"values": [0,0.25,0.5,0.75,1], "format": ".2f", "title": "Propotion remain on treatment"}}
},
"layer": [
{"mark": {"type": "area", "interpolate": "step-after", "opacity": 0.3, "clip": true},
 "encoding": {
  "y": {"field": "lo", "type": "quantitative", "scale": {"domain": [-0.05, 1.05], "nice": false, "zero": false}, "axis": {"values": [0,0.25,0.5,0.75,1], "format": ".2f", "title": "Propotion remain on treatment"}},
  "y2": {"field": "hi"},
  "fill": {"field": "g", "type": "nominal", "scale": {"domain": ["Biologics","Methotrexate","Other systemic"], "range": ["#1b9e77","#d95f02","#7570b3"]},
   "legend": {"title": "Treatment", "orient": "none", "legendX": 421, "legendY": -71, "direction": "horizontal", "titleOrient": "left", "symbolType": "square", "symbolSize": 1225, "symbolOpacity": 0.3, "symbolStrokeWidth": 3, "symbolStrokeColor": "transparent", "labelFont": "Liberation Sans", "labelFontSize": 22, "labelColor": "#000", "titleFont": "Liberation Sans", "titleFontSize": 22, "titleFontWeight": "normal", "titleColor": "#000", "labelOffset": 13, "columnPadding": 4, "titlePadding": 13, "padding": 0}}
 }},
{"mark": {"type": "line", "interpolate": "step-after", "strokeWidth": 2.2, "clip": true},
 "encoding": {
  "stroke": {"field": "g", "type": "nominal", "scale": {"range": ["#1b9e77","#d95f02","#7570b3"]},
   "legend": {"title": "Treatment", "orient": "none", "legendX": 421, "legendY": -71, "direction": "horizontal", "titleOrient": "left", "symbolType": "M-0.8,0H0.8M0,-0.45V0.45", "symbolSize": 1225, "symbolStrokeWidth": 3, "symbolFillColor": "transparent", "labelFont": "Liberation Sans", "labelFontSize": 22, "labelOpacity": 0, "titleFont": "Liberation Sans", "titleFontSize": 22, "titleFontWeight": "normal", "titleOpacity": 0, "labelOffset": 13, "columnPadding": 4, "titlePadding": 13, "padding": 0}},
  "strokeDash": {"field": "g", "type": "nominal", "scale": {"range": [[1,0],[7,3],[12,5]]}, "legend": null}
 }},
{"transform": [{"filter": "datum.c !== 0"}],
 "mark": {"type": "point", "shape": "M-0.8,0H0.8M0,-1V1", "size": 90, "strokeWidth": 1.5, "filled": false, "opacity": 1, "clip": true},
 "encoding": {"stroke": {"field": "g", "type": "nominal"}}},
{"data": {"name": "aMed"}, "mark": {"type": "rule", "strokeDash": [5,4], "color": "#000", "strokeWidth": 1.4},
 "encoding": {"x2": {"field": "t2"}, "y2": {"field": "s2"}}},
{"data": {"values": [{"t": 3.2, "s": 0.19, "label": "p < 0.0001"}]}, "mark": {"type": "text", "align": "left", "baseline": "middle", "fontSize": 20, "font": "Liberation Sans", "color": "#000"},
 "encoding": {"text": {"field": "label"}}}
]
},
{
"width": 612, "height": 334,
"title": {"text": "(b) Treatment switching", "dx": 56, "offset": -9},
"data": {"name": "b"},
"encoding": {
"x": {"field": "t", "type": "quantitative", "scale": {"domain": [-5.8, 125.5], "nice": false, "zero": false}, "axis": {"values": [0,12,24,36,48,60,72,84,96,108,120], "title": "Months from treatment initiation to first switch"}},
"y": {"field": "s", "type": "quantitative", "scale": {"domain": [-0.05, 1.05], "nice": false, "zero": false}, "axis": {"values": [0,0.25,0.5,0.75,1], "format": ".2f", "title": "Propotion remain on treatment"}}
},
"layer": [
{"mark": {"type": "area", "interpolate": "step-after", "opacity": 0.3, "clip": true},
 "encoding": {
  "y": {"field": "lo", "type": "quantitative", "scale": {"domain": [-0.05, 1.05], "nice": false, "zero": false}, "axis": {"values": [0,0.25,0.5,0.75,1], "format": ".2f", "title": "Propotion remain on treatment"}},
  "y2": {"field": "hi"},
  "fill": {"field": "g", "type": "nominal"}
 }},
{"mark": {"type": "line", "interpolate": "step-after", "strokeWidth": 2.2, "clip": true},
 "encoding": {
  "stroke": {"field": "g", "type": "nominal"},
  "strokeDash": {"field": "g", "type": "nominal", "legend": null}
 }},
{"transform": [{"filter": "datum.c !== 0"}],
 "mark": {"type": "point", "shape": "M-0.8,0H0.8M0,-1V1", "size": 90, "strokeWidth": 1.5, "filled": false, "opacity": 1, "clip": true},
 "encoding": {"stroke": {"field": "g", "type": "nominal"}}},
{"data": {"values": [{"t": 3, "s": 0.196, "label": "p < 0.0001"}]}, "mark": {"type": "text", "align": "left", "baseline": "middle", "fontSize": 17.5, "font": "Liberation Sans", "color": "#000"},
 "encoding": {"text": {"field": "label"}}}
]
},
{
"width": 612, "height": 348,
"title": {"text": "(c) Treatment enrichment", "dx": 28, "offset": -9, "fontSize": 23.5},
"data": {"name": "c"},
"encoding": {
"x": {"field": "t", "type": "quantitative", "scale": {"domain": [-5.8, 125.5], "nice": false, "zero": false}, "axis": {"values": [0,12,24,36,48,60,72,84,96,108,120], "title": "Months from treatment initiation to first enrichment"}},
"y": {"field": "s", "type": "quantitative", "scale": {"domain": [-0.05, 1.05], "nice": false, "zero": false}, "axis": {"values": [0,0.25,0.5,0.75,1], "format": ".2f", "title": "Propotion remain on treatment"}}
},
"layer": [
{"mark": {"type": "area", "interpolate": "step-after", "opacity": 0.3, "clip": true},
 "encoding": {
  "y": {"field": "lo", "type": "quantitative", "scale": {"domain": [-0.05, 1.05], "nice": false, "zero": false}, "axis": {"values": [0,0.25,0.5,0.75,1], "format": ".2f", "title": "Propotion remain on treatment"}},
  "y2": {"field": "hi"},
  "fill": {"field": "g", "type": "nominal"}
 }},
{"mark": {"type": "line", "interpolate": "step-after", "strokeWidth": 2.2, "clip": true},
 "encoding": {
  "stroke": {"field": "g", "type": "nominal"},
  "strokeDash": {"field": "g", "type": "nominal", "legend": null}
 }},
{"transform": [{"filter": "datum.c !== 0"}],
 "mark": {"type": "point", "shape": "M-0.8,0H0.8M0,-1V1", "size": 90, "strokeWidth": 1.5, "filled": false, "opacity": 1, "clip": true},
 "encoding": {"stroke": {"field": "g", "type": "nominal"}}},
{"data": {"name": "cMed"}, "mark": {"type": "rule", "strokeDash": [5,4], "color": "#000", "strokeWidth": 1.4},
 "encoding": {"x2": {"field": "t2"}, "y2": {"field": "s2"}}},
{"data": {"values": [{"t": 3.2, "s": 0.19, "label": "p < 0.0001"}]}, "mark": {"type": "text", "align": "left", "baseline": "middle", "fontSize": 17.5, "font": "Liberation Sans", "color": "#000"},
 "encoding": {"text": {"field": "label"}}}
]
},
{
"width": 612, "height": 348,
"title": {"text": "(d) Treatment re-initiation", "dx": 55, "offset": -9},
"data": {"name": "d"},
"encoding": {
"x": {"field": "t", "type": "quantitative", "scale": {"domain": [-5.8, 125.5], "nice": false, "zero": false}, "axis": {"values": [0,12,24,36,48,60,72,84,96,108,120], "title": "Months from treatment non-persistence to restart"}},
"y": {"field": "s", "type": "quantitative", "scale": {"domain": [-0.04, 0.86], "nice": false, "zero": false}, "axis": {"values": [0,0.2,0.4,0.6,0.8], "format": ".1f", "title": "Propotion restarting treatment"}}
},
"layer": [
{"mark": {"type": "area", "interpolate": "step-after", "opacity": 0.3, "clip": true},
 "encoding": {
  "y": {"field": "lo", "type": "quantitative", "scale": {"domain": [-0.04, 0.86], "nice": false, "zero": false}, "axis": {"values": [0,0.2,0.4,0.6,0.8], "format": ".1f", "title": "Propotion restarting treatment"}},
  "y2": {"field": "hi"},
  "fill": {"field": "g", "type": "nominal"}
 }},
{"mark": {"type": "line", "interpolate": "step-after", "strokeWidth": 2.2, "clip": true},
 "encoding": {
  "stroke": {"field": "g", "type": "nominal"},
  "strokeDash": {"field": "g", "type": "nominal", "legend": null}
 }},
{"transform": [{"filter": "datum.c !== 0"}],
 "mark": {"type": "point", "shape": "M-0.8,0H0.8M0,-1V1", "size": 90, "strokeWidth": 1.5, "filled": false, "opacity": 1, "clip": true},
 "encoding": {"stroke": {"field": "g", "type": "nominal"}}},
{"data": {"name": "dMed"}, "mark": {"type": "rule", "strokeDash": [5,4], "color": "#000", "strokeWidth": 1.4},
 "encoding": {"x2": {"field": "t2"}, "y2": {"field": "s2"}}},
{"data": {"values": [{"t": 3.9, "s": 0.2, "label": "p < 0.0001"}]}, "mark": {"type": "text", "align": "left", "baseline": "middle", "fontSize": 17.5, "font": "Liberation Sans", "color": "#000"},
 "encoding": {"text": {"field": "label"}}}
]
}
],
"config": {
"view": {"stroke": null},
"font": "Liberation Sans",
"axis": {
 "domainColor": "#000", "domainWidth": 2.5, "tickColor": "#000", "tickWidth": 1, "tickSize": 4,
 "labelFont": "Liberation Sans Narrow, DejaVu Sans Condensed, Liberation Sans", "labelFontSize": 16, "labelColor": "#1a1a1a", "labelPadding": 2,
 "titleFont": "DejaVu Sans", "titleFontWeight": "normal", "titleColor": "#262626",
 "grid": true, "gridColor": "#c4c4c4", "gridDash": [1,3], "gridWidth": 1
},
"axisX": {"titleFont": "Liberation Sans Narrow, DejaVu Sans Condensed, Liberation Sans", "titleFontSize": 14, "titlePadding": 1},
"axisY": {"titleFontSize": 15, "titlePadding": 6},
"title": {"font": "Liberation Serif", "fontSize": 21, "fontWeight": "bold", "anchor": "start", "frame": "group", "color": "#000", "baseline": "alphabetic"}
}
}
